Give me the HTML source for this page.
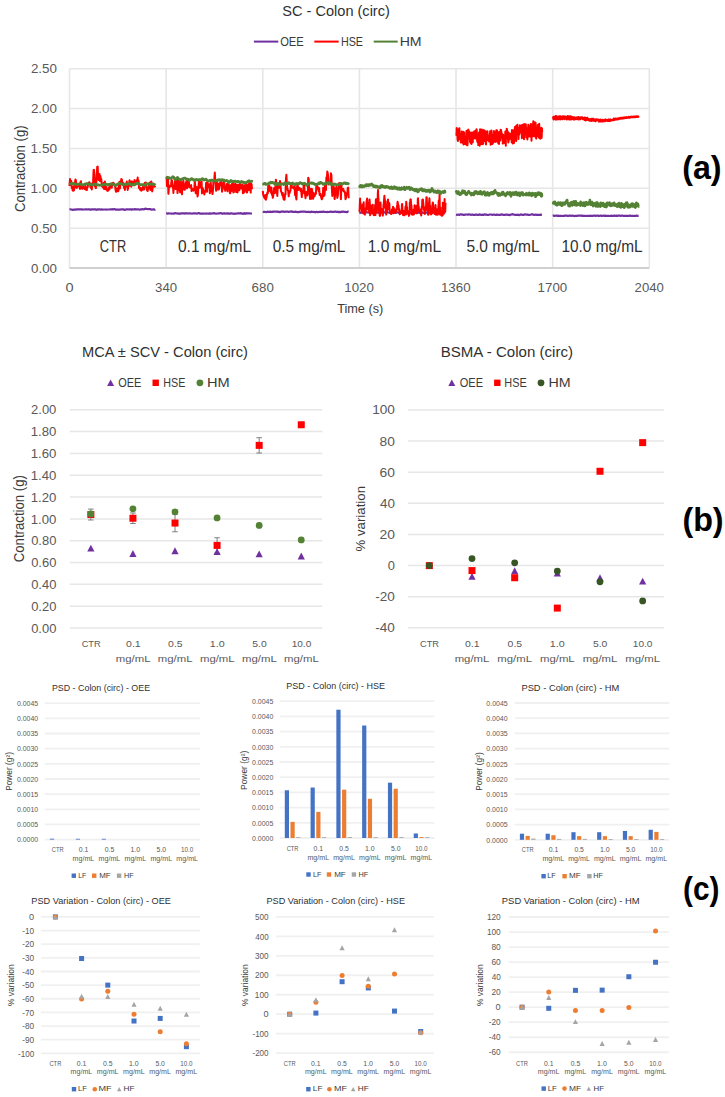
<!DOCTYPE html>
<html><head><meta charset="utf-8"><style>
html,body{margin:0;padding:0;background:#fff;}
svg{display:block;}
text{font-family:"Liberation Sans",sans-serif;}
</style></head><body>
<svg width="725" height="1097" viewBox="0 0 725 1097">
<rect width="725" height="1097" fill="#fff"/>
<line x1="69.50" y1="228.15" x2="649.30" y2="228.15" stroke="#E6E6E6" stroke-width="1.5"/>
<line x1="69.50" y1="188.30" x2="649.30" y2="188.30" stroke="#E6E6E6" stroke-width="1.5"/>
<line x1="69.50" y1="148.45" x2="649.30" y2="148.45" stroke="#E6E6E6" stroke-width="1.5"/>
<line x1="69.50" y1="108.60" x2="649.30" y2="108.60" stroke="#E6E6E6" stroke-width="1.5"/>
<line x1="69.50" y1="68.75" x2="649.30" y2="68.75" stroke="#E6E6E6" stroke-width="1.5"/>
<line x1="69.50" y1="68.75" x2="69.50" y2="268.00" stroke="#E6E6E6" stroke-width="1.6"/>
<line x1="166.13" y1="68.75" x2="166.13" y2="268.00" stroke="#E6E6E6" stroke-width="1.6"/>
<line x1="262.77" y1="68.75" x2="262.77" y2="268.00" stroke="#E6E6E6" stroke-width="1.6"/>
<line x1="359.40" y1="68.75" x2="359.40" y2="268.00" stroke="#E6E6E6" stroke-width="1.6"/>
<line x1="456.03" y1="68.75" x2="456.03" y2="268.00" stroke="#E6E6E6" stroke-width="1.6"/>
<line x1="552.67" y1="68.75" x2="552.67" y2="268.00" stroke="#E6E6E6" stroke-width="1.6"/>
<line x1="649.30" y1="68.75" x2="649.30" y2="268.00" stroke="#E6E6E6" stroke-width="1.6"/>
<line x1="69.50" y1="268.00" x2="649.30" y2="268.00" stroke="#D0D0D0" stroke-width="1.8"/>
<text x="282.35" y="16.10" font-size="14.8" textLength="107.50" lengthAdjust="spacingAndGlyphs" fill="#303030">SC - Colon (circ)</text>
<line x1="253.90" y1="41.60" x2="278.30" y2="41.60" stroke="#7030A0" stroke-width="2"/>
<text x="280.20" y="45.90" font-size="13.0" textLength="23.57" lengthAdjust="spacingAndGlyphs" fill="#3A3A3A">OEE</text>
<line x1="314.30" y1="41.60" x2="338.70" y2="41.60" stroke="#FF0000" stroke-width="2"/>
<text x="340.94" y="45.90" font-size="13.0" textLength="22.10" lengthAdjust="spacingAndGlyphs" fill="#3A3A3A">HSE</text>
<line x1="373.70" y1="41.60" x2="397.70" y2="41.60" stroke="#548235" stroke-width="2"/>
<text x="399.67" y="45.90" font-size="13.0" textLength="21.93" lengthAdjust="spacingAndGlyphs" fill="#3A3A3A">HM</text>
<text x="31.07" y="272.65" font-size="13.3" textLength="25.92" lengthAdjust="spacingAndGlyphs" fill="#595959">0.00</text>
<text x="31.07" y="232.80" font-size="13.3" textLength="25.92" lengthAdjust="spacingAndGlyphs" fill="#595959">0.50</text>
<text x="30.58" y="192.95" font-size="13.3" textLength="26.41" lengthAdjust="spacingAndGlyphs" fill="#595959">1.00</text>
<text x="30.58" y="153.10" font-size="13.3" textLength="26.41" lengthAdjust="spacingAndGlyphs" fill="#595959">1.50</text>
<text x="30.93" y="113.25" font-size="13.3" textLength="26.06" lengthAdjust="spacingAndGlyphs" fill="#595959">2.00</text>
<text x="30.93" y="73.40" font-size="13.3" textLength="26.06" lengthAdjust="spacingAndGlyphs" fill="#595959">2.50</text>
<text x="65.42" y="291.70" font-size="13.3" textLength="8.11" lengthAdjust="spacingAndGlyphs" fill="#595959">0</text>
<text x="155.11" y="291.70" font-size="13.3" textLength="22.04" lengthAdjust="spacingAndGlyphs" fill="#595959">340</text>
<text x="251.60" y="291.70" font-size="13.3" textLength="22.18" lengthAdjust="spacingAndGlyphs" fill="#595959">680</text>
<text x="344.35" y="291.70" font-size="13.3" textLength="29.56" lengthAdjust="spacingAndGlyphs" fill="#595959">1020</text>
<text x="440.99" y="291.70" font-size="13.3" textLength="29.56" lengthAdjust="spacingAndGlyphs" fill="#595959">1360</text>
<text x="537.62" y="291.70" font-size="13.3" textLength="29.56" lengthAdjust="spacingAndGlyphs" fill="#595959">1700</text>
<text x="634.59" y="291.70" font-size="13.3" textLength="29.21" lengthAdjust="spacingAndGlyphs" fill="#595959">2040</text>
<text x="337.15" y="312.70" font-size="13.0" textLength="46.07" lengthAdjust="spacingAndGlyphs" fill="#3A3A3A">Time (s)</text>
<text transform="rotate(-90)" x="-212.05" y="24.50" font-size="14.3" textLength="86.59" lengthAdjust="spacingAndGlyphs" fill="#3A3A3A">Contraction (g)</text>
<text x="99.86" y="251.70" font-size="15.6" textLength="26.32" lengthAdjust="spacingAndGlyphs" fill="#303030">CTR</text>
<text x="177.98" y="251.70" font-size="15.6" textLength="73.17" lengthAdjust="spacingAndGlyphs" fill="#303030">0.1 mg/mL</text>
<text x="272.68" y="251.70" font-size="15.6" textLength="72.77" lengthAdjust="spacingAndGlyphs" fill="#303030">0.5 mg/mL</text>
<text x="367.74" y="251.70" font-size="15.6" textLength="73.32" lengthAdjust="spacingAndGlyphs" fill="#303030">1.0 mg/mL</text>
<text x="466.38" y="251.70" font-size="15.6" textLength="73.17" lengthAdjust="spacingAndGlyphs" fill="#303030">5.0 mg/mL</text>
<text x="561.45" y="251.70" font-size="15.6" textLength="81.22" lengthAdjust="spacingAndGlyphs" fill="#303030">10.0 mg/mL</text>
<text x="682.19" y="179.24" font-size="33.16" textLength="39.33" lengthAdjust="spacingAndGlyphs" fill="#000000" font-weight="bold">(a)</text>
<polyline points="69.5,209.5 70.2,209.3 70.9,209.5 71.5,209.5 72.2,209.8 72.9,209.8 73.6,209.7 74.3,209.6 75.0,209.6 75.6,209.7 76.3,209.4 77.0,209.4 77.7,209.4 78.4,209.4 79.0,209.3 79.7,209.3 80.4,209.4 81.1,209.3 81.8,209.3 82.5,209.6 83.1,209.5 83.8,209.5 84.5,209.5 85.2,209.4 85.9,209.4 86.5,209.4 87.2,209.5 87.9,209.4 88.6,209.3 89.3,209.3 90.0,209.5 90.6,209.8 91.3,209.5 92.0,209.3 92.7,209.4 93.4,209.4 94.0,209.5 94.7,209.4 95.4,209.4 96.1,209.6 96.8,209.8 97.4,209.6 98.1,209.4 98.8,209.4 99.5,209.4 100.2,209.5 100.9,209.6 101.5,209.4 102.2,209.5 102.9,209.6 103.6,209.5 104.3,209.5 104.9,209.5 105.6,209.5 106.3,209.6 107.0,209.5 107.7,209.5 108.4,209.5 109.0,209.5 109.7,209.5 110.4,209.3 111.1,209.3 111.8,209.4 112.4,209.2 113.1,209.3 113.8,209.3 114.5,209.1 115.2,209.4 115.9,209.6 116.5,209.6 117.2,209.6 117.9,209.7 118.6,209.7 119.3,209.6 119.9,209.6 120.6,209.5 121.3,209.3 122.0,209.4 122.7,209.5 123.4,209.3 124.0,209.5 124.7,210.0 125.4,209.8 126.1,209.4 126.8,209.4 127.4,209.3 128.1,209.4 128.8,209.5 129.5,209.4 130.2,209.3 130.9,209.4 131.5,209.6 132.2,209.4 132.9,209.3 133.6,209.5 134.3,209.4 134.9,209.1 135.6,209.4 136.3,209.3 137.0,209.3 137.7,209.4 138.3,209.4 139.0,209.5 139.7,209.6 140.4,209.6 141.1,209.3 141.8,209.3 142.4,209.2 143.1,209.2 143.8,209.4 144.5,209.1 145.2,208.7 145.8,208.7 146.5,208.9 147.2,209.0 147.9,209.1 148.6,209.2 149.3,209.2 149.9,209.1 150.6,209.2 151.3,209.6 152.0,209.6 152.7,209.5 153.3,209.3 154.0,209.4 154.7,209.7 155.4,209.4" fill="none" stroke="#7030A0" stroke-width="2.2" stroke-linejoin="round"/>
<polyline points="69.5,186.0 70.0,179.0 70.4,183.0 70.9,185.4 71.3,181.0 71.8,187.9 72.2,187.8 72.7,190.5 73.1,190.8 73.6,186.5 74.0,190.4 74.5,186.2 75.0,182.0 75.4,179.6 75.9,180.4 76.3,187.5 76.8,187.9 77.2,186.2 77.7,185.0 78.1,183.9 78.6,186.3 79.0,186.1 79.5,187.1 80.0,189.0 80.4,182.2 80.9,181.2 81.3,184.9 81.8,188.1 82.2,188.8 82.7,188.1 83.1,186.5 83.6,187.3 84.0,188.4 84.5,188.8 85.0,189.1 85.4,185.3 85.9,188.6 86.3,190.1 86.8,190.1 87.2,187.5 87.7,187.1 88.1,184.2 88.6,184.0 89.0,182.4 89.5,182.2 90.0,184.7 90.4,186.9 90.9,187.9 91.3,183.7 91.8,189.4 92.2,184.7 92.7,185.5 93.1,181.4 93.6,170.1 94.0,169.8 94.5,174.8 94.9,186.2 95.4,187.0 95.9,188.1 96.3,183.1 96.8,175.7 97.2,166.9 97.7,166.6 98.1,176.7 98.6,179.9 99.0,175.0 99.5,174.0 99.9,180.9 100.4,175.9 100.9,180.1 101.3,179.0 101.8,186.0 102.2,184.3 102.7,187.3 103.1,186.5 103.6,183.0 104.0,188.9 104.5,183.2 104.9,181.5 105.4,189.2 105.9,189.1 106.3,186.9 106.8,189.0 107.2,190.7 107.7,189.9 108.1,190.6 108.6,189.8 109.0,187.3 109.5,189.3 109.9,187.5 110.4,185.4 110.9,185.3 111.3,186.8 111.8,187.6 112.2,182.9 112.7,185.0 113.1,182.7 113.6,184.0 114.0,183.3 114.5,184.3 114.9,184.7 115.4,188.7 115.9,191.7 116.3,191.8 116.8,189.1 117.2,188.2 117.7,190.3 118.1,191.3 118.6,190.3 119.0,184.0 119.5,181.8 119.9,188.5 120.4,183.9 120.9,182.7 121.3,179.1 121.8,179.4 122.2,181.9 122.7,183.4 123.1,182.8 123.6,183.4 124.0,187.8 124.5,185.6 124.9,189.9 125.4,183.8 125.9,183.8 126.3,186.4 126.8,181.6 127.2,184.4 127.7,189.9 128.1,188.0 128.6,185.9 129.0,183.6 129.5,180.3 129.9,181.4 130.4,185.7 130.9,185.8 131.3,186.6 131.8,181.2 132.2,183.9 132.7,182.0 133.1,184.1 133.6,183.4 134.0,185.2 134.5,180.1 134.9,184.0 135.4,182.5 135.8,184.5 136.3,182.1 136.8,180.2 137.2,181.3 137.7,177.6 138.1,183.8 138.6,180.5 139.0,187.9 139.5,188.5 139.9,189.1 140.4,189.9 140.8,187.7 141.3,190.7 141.8,189.8 142.2,189.7 142.7,189.7 143.1,186.3 143.6,186.1 144.0,189.6 144.5,185.2 144.9,182.8 145.4,186.6 145.8,182.5 146.3,185.5 146.8,189.8 147.2,190.7 147.7,191.0 148.1,187.3 148.6,188.5 149.0,183.6 149.5,187.2 149.9,182.5 150.4,189.9 150.8,184.9 151.3,181.5 151.8,186.2 152.2,191.4 152.7,188.2 153.1,183.4 153.6,186.1 154.0,185.2 154.5,186.4 154.9,186.7 155.4,185.9" fill="none" stroke="#FF0000" stroke-width="2.0" stroke-linejoin="round"/>
<polyline points="69.5,184.7 69.7,184.3 70.0,184.1 70.2,183.9 70.4,184.0 70.6,183.9 70.9,184.2 71.1,183.9 71.3,183.7 71.5,183.3 71.8,183.5 72.0,183.5 72.2,183.4 72.5,183.6 72.7,183.5 72.9,183.8 73.1,183.6 73.4,183.5 73.6,183.4 73.8,183.8 74.0,183.8 74.3,184.0 74.5,184.0 74.7,184.1 75.0,183.9 75.2,184.0 75.4,184.3 75.6,184.2 75.9,184.2 76.1,184.5 76.3,184.4 76.5,184.4 76.8,184.5 77.0,184.4 77.2,184.4 77.5,184.2 77.7,184.3 77.9,184.1 78.1,184.0 78.4,184.1 78.6,184.2 78.8,184.0 79.0,184.0 79.3,183.9 79.5,184.0 79.7,184.1 80.0,184.1 80.2,184.1 80.4,184.2 80.6,184.2 80.9,184.4 81.1,184.2 81.3,184.5 81.5,184.7 81.8,184.7 82.0,184.6 82.2,184.6 82.5,184.7 82.7,184.8 82.9,185.0 83.1,184.8 83.4,184.9 83.6,184.7 83.8,184.7 84.0,184.6 84.3,184.2 84.5,184.3 84.7,184.6 85.0,184.6 85.2,184.1 85.4,184.1 85.6,183.8 85.9,183.9 86.1,183.7 86.3,183.6 86.5,183.4 86.8,183.5 87.0,183.7 87.2,183.8 87.5,183.8 87.7,183.5 87.9,183.6 88.1,183.8 88.4,184.0 88.6,184.1 88.8,184.0 89.0,184.4 89.3,184.7 89.5,184.7 89.7,184.4 90.0,184.5 90.2,184.4 90.4,184.7 90.6,185.0 90.9,184.7 91.1,184.5 91.3,184.5 91.5,184.8 91.8,184.7 92.0,184.9 92.2,184.8 92.4,184.9 92.7,184.8 92.9,184.9 93.1,184.8 93.4,184.6 93.6,184.7 93.8,184.5 94.0,184.5 94.3,184.5 94.5,184.2 94.7,184.3 94.9,184.4 95.2,184.4 95.4,184.5 95.6,184.3 95.9,184.3 96.1,184.2 96.3,184.4 96.5,184.8 96.8,184.9 97.0,184.8 97.2,184.9 97.4,184.8 97.7,184.7 97.9,184.9 98.1,184.7 98.4,185.0 98.6,185.1 98.8,185.1 99.0,185.4 99.3,185.3 99.5,185.1 99.7,185.1 99.9,185.1 100.2,185.2 100.4,185.3 100.6,185.2 100.9,185.3 101.1,185.1 101.3,185.1 101.5,185.1 101.8,184.8 102.0,184.8 102.2,184.9 102.4,184.8 102.7,184.9 102.9,184.8 103.1,184.7 103.4,184.6 103.6,184.5 103.8,184.6 104.0,184.4 104.3,184.4 104.5,184.3 104.7,184.3 104.9,184.4 105.2,184.4 105.4,184.0 105.6,184.0 105.9,184.0 106.1,184.2 106.3,184.2 106.5,184.1 106.8,184.4 107.0,184.4 107.2,184.7 107.4,184.9 107.7,184.8 107.9,184.7 108.1,184.9 108.4,185.0 108.6,184.8 108.8,184.4 109.0,184.5 109.3,184.5 109.5,184.3 109.7,184.5 109.9,184.2 110.2,184.0 110.4,183.9 110.6,183.9 110.9,184.0 111.1,184.0 111.3,184.2 111.5,184.3 111.8,184.1 112.0,184.0 112.2,183.9 112.4,183.8 112.7,184.0 112.9,184.3 113.1,184.2 113.4,184.3 113.6,184.2 113.8,184.4 114.0,184.6 114.3,184.7 114.5,185.0 114.7,185.4 114.9,185.4 115.2,185.3 115.4,185.1 115.6,185.0 115.9,185.0 116.1,184.9 116.3,185.3 116.5,185.1 116.8,185.0 117.0,184.8 117.2,184.5 117.4,184.0 117.7,183.9 117.9,184.0 118.1,183.9 118.4,183.9 118.6,183.9 118.8,183.9 119.0,183.3 119.3,183.3 119.5,183.3 119.7,183.4 119.9,183.5 120.2,183.6 120.4,183.5 120.6,183.6 120.9,183.8 121.1,183.7 121.3,183.6 121.5,183.6 121.8,184.1 122.0,184.2 122.2,184.1 122.4,184.2 122.7,184.6 122.9,184.5 123.1,184.6 123.4,184.4 123.6,184.5 123.8,184.3 124.0,184.4 124.3,184.4 124.5,184.3 124.7,184.3 124.9,184.4 125.2,184.4 125.4,184.1 125.6,184.2 125.9,184.4 126.1,184.4 126.3,184.4 126.5,184.4 126.8,184.5 127.0,184.7 127.2,184.4 127.4,184.0 127.7,183.7 127.9,183.6 128.1,183.7 128.4,183.5 128.6,183.4 128.8,183.5 129.0,183.5 129.3,183.5 129.5,183.6 129.7,183.7 129.9,184.1 130.2,184.3 130.4,184.7 130.6,184.7 130.9,184.7 131.1,184.8 131.3,184.9 131.5,184.7 131.8,184.8 132.0,184.9 132.2,184.9 132.4,184.6 132.7,184.4 132.9,184.6 133.1,184.5 133.3,184.5 133.6,184.5 133.8,184.8 134.0,184.9 134.3,185.0 134.5,184.5 134.7,184.3 134.9,184.2 135.2,184.3 135.4,184.0 135.6,183.9 135.8,183.9 136.1,183.7 136.3,183.7 136.5,183.4 136.8,183.3 137.0,183.0 137.2,183.1 137.4,183.2 137.7,183.1 137.9,183.5 138.1,183.7 138.3,183.7 138.6,183.5 138.8,183.6 139.0,183.7 139.3,184.1 139.5,183.9 139.7,184.3 139.9,184.6 140.2,184.7 140.4,184.9 140.6,184.9 140.8,184.8 141.1,184.8 141.3,184.7 141.5,184.5 141.8,184.5 142.0,184.5 142.2,184.7 142.4,184.7 142.7,184.7 142.9,184.6 143.1,184.9 143.3,184.5 143.6,184.9 143.8,184.9 144.0,185.0 144.3,185.4 144.5,185.4 144.7,185.2 144.9,185.2 145.2,185.2 145.4,185.2 145.6,184.9 145.8,184.4 146.1,184.2 146.3,183.9 146.5,184.1 146.8,183.8 147.0,183.8 147.2,183.8 147.4,183.8 147.7,183.7 147.9,183.5 148.1,183.5 148.3,183.9 148.6,184.2 148.8,184.1 149.0,184.2 149.3,184.2 149.5,184.3 149.7,184.2 149.9,184.3 150.2,184.3 150.4,184.2 150.6,184.1 150.8,184.1 151.1,183.7 151.3,183.8 151.5,184.1 151.8,184.1 152.0,183.9 152.2,184.2 152.4,184.4 152.7,184.3 152.9,184.2 153.1,184.3 153.3,184.1 153.6,184.3 153.8,184.4 154.0,184.4 154.3,184.5 154.5,184.3 154.7,184.7 154.9,184.7 155.2,184.7 155.4,184.8 155.6,185.0" fill="none" stroke="#548235" stroke-width="2.6" stroke-linejoin="round"/>
<polyline points="166.1,213.5 166.8,213.4 167.5,213.6 168.2,213.5 168.9,213.3 169.5,213.5 170.2,213.5 170.9,213.5 171.6,213.7 172.3,213.5 173.0,213.5 173.6,213.7 174.3,213.4 175.0,213.2 175.7,213.2 176.4,213.4 177.0,213.5 177.7,213.4 178.4,213.7 179.1,213.7 179.8,213.8 180.4,213.5 181.1,213.4 181.8,213.4 182.5,213.3 183.2,213.3 183.9,213.3 184.5,213.6 185.2,213.5 185.9,213.2 186.6,213.3 187.3,213.5 187.9,213.5 188.6,213.4 189.3,213.4 190.0,213.4 190.7,213.5 191.4,213.5 192.0,213.6 192.7,213.5 193.4,213.4 194.1,213.4 194.8,213.4 195.4,213.4 196.1,213.5 196.8,213.6 197.5,213.4 198.2,213.2 198.9,213.1 199.5,213.3 200.2,213.7 200.9,213.7 201.6,213.5 202.3,213.6 202.9,213.7 203.6,213.7 204.3,213.5 205.0,213.5 205.7,213.7 206.4,213.7 207.0,213.5 207.7,213.5 208.4,213.7 209.1,213.6 209.8,213.4 210.4,213.6 211.1,213.6 211.8,213.5 212.5,213.4 213.2,213.5 213.9,213.2 214.5,213.2 215.2,213.5 215.9,213.7 216.6,213.7 217.3,213.5 217.9,213.5 218.6,213.4 219.3,213.4 220.0,213.3 220.7,213.1 221.3,213.3 222.0,213.6 222.7,213.8 223.4,213.5 224.1,213.2 224.8,213.6 225.4,213.7 226.1,213.5 226.8,213.4 227.5,213.6 228.2,213.4 228.8,213.5 229.5,213.7 230.2,213.6 230.9,213.4 231.6,213.3 232.3,213.5 232.9,213.6 233.6,213.8 234.3,213.9 235.0,213.5 235.7,213.5 236.3,213.6 237.0,213.5 237.7,213.4 238.4,213.4 239.1,213.4 239.8,213.3 240.4,213.2 241.1,213.3 241.8,213.6 242.5,213.7 243.2,213.8 243.8,213.4 244.5,213.2 245.2,213.8 245.9,213.6 246.6,213.2 247.3,213.5 247.9,213.4 248.6,213.3 249.3,213.5 250.0,213.4 250.7,213.5 251.3,213.5 252.0,213.5" fill="none" stroke="#7030A0" stroke-width="2.2" stroke-linejoin="round"/>
<polyline points="166.1,178.1 166.6,177.3 167.0,186.2 167.5,179.5 168.0,179.0 168.4,193.8 168.9,187.9 169.3,186.6 169.8,186.8 170.2,185.2 170.7,186.3 171.1,184.2 171.6,180.1 172.0,180.3 172.5,186.9 173.0,186.3 173.4,193.0 173.9,185.8 174.3,186.5 174.8,182.3 175.2,180.5 175.7,189.1 176.1,180.1 176.6,180.2 177.0,179.1 177.5,193.1 177.9,181.8 178.4,178.9 178.9,184.5 179.3,190.1 179.8,191.1 180.2,192.4 180.7,180.3 181.1,185.3 181.6,191.0 182.0,194.3 182.5,182.2 182.9,187.7 183.4,180.4 183.9,189.4 184.3,189.1 184.8,189.8 185.2,184.5 185.7,183.4 186.1,182.1 186.6,180.9 187.0,188.4 187.5,186.1 187.9,180.0 188.4,180.6 188.9,181.9 189.3,187.2 189.8,185.7 190.2,187.6 190.7,185.6 191.1,185.1 191.6,191.1 192.0,188.7 192.5,188.7 192.9,190.1 193.4,190.7 193.9,189.3 194.3,189.0 194.8,181.0 195.2,185.1 195.7,193.3 196.1,190.6 196.6,187.0 197.0,187.5 197.5,196.4 197.9,195.0 198.4,187.0 198.9,181.8 199.3,179.8 199.8,187.7 200.2,186.2 200.7,184.3 201.1,183.3 201.6,181.4 202.0,193.4 202.5,191.2 202.9,188.4 203.4,192.6 203.9,190.7 204.3,194.4 204.8,192.5 205.2,191.2 205.7,190.0 206.1,182.8 206.6,187.2 207.0,191.8 207.5,181.4 207.9,184.4 208.4,185.0 208.9,187.2 209.3,184.5 209.8,193.3 210.2,188.9 210.7,182.2 211.1,186.4 211.6,191.5 212.0,188.1 212.5,194.1 212.9,191.0 213.4,181.8 213.9,181.8 214.3,179.3 214.8,172.6 215.2,179.1 215.7,186.3 216.1,190.7 216.6,180.6 217.0,181.8 217.5,189.6 217.9,185.4 218.4,183.7 218.8,189.4 219.3,187.4 219.8,183.1 220.2,185.1 220.7,180.3 221.1,180.9 221.6,183.9 222.0,191.8 222.5,189.8 222.9,188.0 223.4,183.0 223.8,181.5 224.3,185.2 224.8,186.9 225.2,190.8 225.7,186.4 226.1,187.5 226.6,184.1 227.0,186.4 227.5,191.3 227.9,182.8 228.4,183.1 228.8,189.0 229.3,184.9 229.8,192.8 230.2,193.3 230.7,185.3 231.1,191.2 231.6,190.9 232.0,183.7 232.5,183.7 232.9,181.3 233.4,192.4 233.8,192.3 234.3,186.0 234.8,185.6 235.2,183.5 235.7,186.8 236.1,192.0 236.6,184.7 237.0,186.7 237.5,192.4 237.9,184.7 238.4,186.6 238.8,185.8 239.3,190.3 239.8,183.8 240.2,182.3 240.7,188.4 241.1,185.8 241.6,188.6 242.0,187.7 242.5,184.4 242.9,193.2 243.4,185.6 243.8,192.7 244.3,188.2 244.8,191.7 245.2,184.7 245.7,187.6 246.1,184.0 246.6,185.8 247.0,192.6 247.5,190.6 247.9,185.2 248.4,184.3 248.8,190.0 249.3,181.3 249.8,189.5 250.2,186.3 250.7,192.6 251.1,183.7 251.6,184.3 252.0,189.3" fill="none" stroke="#FF0000" stroke-width="2.0" stroke-linejoin="round"/>
<polyline points="166.1,177.4 166.4,177.5 166.6,177.5 166.8,177.8 167.0,177.6 167.3,177.2 167.5,177.4 167.7,177.4 168.0,177.3 168.2,177.6 168.4,177.6 168.6,177.8 168.9,177.6 169.1,177.5 169.3,177.8 169.5,178.3 169.8,178.2 170.0,178.4 170.2,178.5 170.5,178.3 170.7,178.4 170.9,178.2 171.1,178.1 171.4,178.0 171.6,177.8 171.8,177.6 172.0,177.4 172.3,177.1 172.5,176.9 172.7,176.7 173.0,176.6 173.2,176.8 173.4,177.1 173.6,177.2 173.9,177.4 174.1,178.0 174.3,178.3 174.5,179.0 174.8,179.2 175.0,179.2 175.2,179.5 175.4,179.5 175.7,179.4 175.9,179.4 176.1,179.0 176.4,178.3 176.6,178.4 176.8,177.9 177.0,177.9 177.3,177.8 177.5,177.4 177.7,177.6 177.9,177.9 178.2,178.1 178.4,178.5 178.6,178.9 178.9,178.9 179.1,179.3 179.3,179.3 179.5,179.4 179.8,179.5 180.0,179.8 180.2,179.8 180.4,179.8 180.7,179.7 180.9,179.8 181.1,179.3 181.4,179.2 181.6,179.3 181.8,179.3 182.0,179.3 182.3,179.0 182.5,178.7 182.7,178.5 182.9,178.5 183.2,178.4 183.4,178.5 183.6,178.3 183.9,178.2 184.1,178.1 184.3,178.1 184.5,178.0 184.8,178.0 185.0,178.1 185.2,178.5 185.4,178.3 185.7,178.4 185.9,178.8 186.1,179.0 186.4,179.3 186.6,179.1 186.8,179.0 187.0,179.5 187.3,179.4 187.5,179.1 187.7,179.1 187.9,179.3 188.2,179.5 188.4,179.4 188.6,179.4 188.9,179.8 189.1,180.3 189.3,180.0 189.5,179.8 189.8,180.1 190.0,180.2 190.2,180.1 190.4,179.3 190.7,179.3 190.9,179.3 191.1,179.0 191.4,178.5 191.6,178.7 191.8,178.9 192.0,178.7 192.3,179.2 192.5,178.8 192.7,179.3 192.9,179.5 193.2,179.4 193.4,179.9 193.6,180.2 193.9,180.2 194.1,180.4 194.3,180.3 194.5,179.8 194.8,180.3 195.0,180.2 195.2,179.9 195.4,180.2 195.7,179.9 195.9,179.8 196.1,179.6 196.4,179.4 196.6,179.4 196.8,179.9 197.0,179.8 197.3,180.0 197.5,180.0 197.7,179.9 197.9,180.1 198.2,179.7 198.4,179.8 198.6,180.0 198.9,179.8 199.1,179.6 199.3,179.7 199.5,179.6 199.8,179.9 200.0,179.9 200.2,179.8 200.4,179.7 200.7,179.6 200.9,179.5 201.1,179.5 201.4,179.4 201.6,179.3 201.8,179.2 202.0,179.0 202.3,178.5 202.5,178.5 202.7,179.0 202.9,179.0 203.2,179.1 203.4,179.4 203.6,179.9 203.9,179.8 204.1,179.9 204.3,179.8 204.5,180.0 204.8,179.8 205.0,179.6 205.2,179.7 205.4,179.8 205.7,179.8 205.9,179.1 206.1,179.2 206.4,179.6 206.6,179.7 206.8,179.9 207.0,180.3 207.3,180.3 207.5,180.5 207.7,180.7 207.9,180.8 208.2,180.7 208.4,181.0 208.6,180.8 208.9,180.7 209.1,180.6 209.3,180.7 209.5,180.8 209.8,180.7 210.0,180.3 210.2,180.3 210.4,180.8 210.7,180.4 210.9,180.2 211.1,180.3 211.4,180.5 211.6,180.2 211.8,180.1 212.0,180.0 212.3,180.4 212.5,180.3 212.7,180.1 212.9,180.5 213.2,180.7 213.4,180.7 213.6,180.7 213.9,180.7 214.1,181.0 214.3,181.2 214.5,180.9 214.8,180.9 215.0,180.6 215.2,180.7 215.4,181.0 215.7,181.0 215.9,180.8 216.1,180.5 216.3,180.2 216.6,180.3 216.8,180.3 217.0,180.5 217.3,180.9 217.5,180.3 217.7,180.0 217.9,179.9 218.2,179.9 218.4,179.9 218.6,180.0 218.8,179.6 219.1,180.0 219.3,180.1 219.5,179.6 219.8,179.8 220.0,179.8 220.2,179.9 220.4,179.9 220.7,180.4 220.9,180.2 221.1,180.3 221.3,180.0 221.6,179.7 221.8,179.8 222.0,180.0 222.3,179.9 222.5,180.2 222.7,180.1 222.9,179.6 223.2,180.0 223.4,180.2 223.6,180.1 223.8,180.0 224.1,180.1 224.3,180.5 224.5,180.5 224.8,180.5 225.0,180.8 225.2,181.1 225.4,181.1 225.7,180.9 225.9,180.5 226.1,180.6 226.3,180.5 226.6,180.4 226.8,180.6 227.0,180.6 227.3,180.6 227.5,180.9 227.7,181.0 227.9,181.1 228.2,181.9 228.4,182.3 228.6,182.7 228.8,182.4 229.1,182.3 229.3,181.9 229.5,181.7 229.8,181.6 230.0,181.3 230.2,181.6 230.4,181.0 230.7,180.5 230.9,180.3 231.1,180.6 231.3,180.6 231.6,181.1 231.8,181.4 232.0,181.2 232.3,181.4 232.5,181.2 232.7,181.4 232.9,181.8 233.2,181.8 233.4,181.7 233.6,181.9 233.8,181.5 234.1,181.5 234.3,181.3 234.5,181.5 234.8,181.0 235.0,181.4 235.2,181.1 235.4,181.4 235.7,181.5 235.9,181.4 236.1,181.3 236.3,181.4 236.6,181.5 236.8,181.6 237.0,181.9 237.3,181.7 237.5,181.7 237.7,181.8 237.9,181.3 238.2,181.2 238.4,181.4 238.6,181.4 238.8,181.9 239.1,182.0 239.3,181.9 239.5,182.1 239.8,182.4 240.0,182.2 240.2,182.2 240.4,182.4 240.7,182.4 240.9,182.0 241.1,181.6 241.3,181.4 241.6,181.6 241.8,181.8 242.0,181.8 242.3,181.8 242.5,182.1 242.7,182.0 242.9,181.8 243.2,182.0 243.4,182.1 243.6,182.3 243.8,182.6 244.1,182.4 244.3,182.4 244.5,182.4 244.8,182.4 245.0,182.7 245.2,183.0 245.4,183.1 245.7,183.1 245.9,183.0 246.1,182.6 246.3,182.5 246.6,182.6 246.8,182.4 247.0,182.1 247.3,182.0 247.5,181.6 247.7,181.3 247.9,181.1 248.2,181.1 248.4,180.9 248.6,180.8 248.8,180.7 249.1,180.7 249.3,181.0 249.5,180.9 249.8,181.1 250.0,181.1 250.2,181.5 250.4,181.6 250.7,181.8 250.9,181.7 251.1,181.5 251.3,181.6 251.6,181.5 251.8,181.5 252.0,181.1 252.3,181.6" fill="none" stroke="#548235" stroke-width="2.6" stroke-linejoin="round"/>
<polyline points="262.8,211.8 263.4,212.0 264.1,211.9 264.8,211.9 265.5,212.0 266.2,212.1 266.9,212.0 267.5,211.6 268.2,211.8 268.9,211.9 269.6,211.8 270.3,211.7 270.9,211.8 271.6,211.9 272.3,211.7 273.0,211.8 273.7,211.6 274.4,211.5 275.0,211.7 275.7,211.7 276.4,211.6 277.1,211.7 277.8,211.8 278.4,211.7 279.1,211.9 279.8,212.1 280.5,211.9 281.2,211.6 281.9,211.6 282.5,211.6 283.2,211.4 283.9,211.8 284.6,212.0 285.3,211.6 285.9,211.5 286.6,211.7 287.3,211.6 288.0,211.7 288.7,211.9 289.4,211.7 290.0,211.7 290.7,211.6 291.4,211.4 292.1,211.6 292.8,211.9 293.4,211.8 294.1,211.8 294.8,211.8 295.5,211.7 296.2,211.8 296.9,211.9 297.5,212.2 298.2,212.1 298.9,211.9 299.6,212.0 300.3,211.8 300.9,211.7 301.6,211.7 302.3,211.6 303.0,211.7 303.7,211.7 304.3,211.5 305.0,211.7 305.7,211.8 306.4,211.9 307.1,212.0 307.8,211.8 308.4,211.8 309.1,211.8 309.8,212.1 310.5,212.1 311.2,211.7 311.8,211.7 312.5,211.9 313.2,212.0 313.9,211.9 314.6,212.1 315.3,212.3 315.9,212.0 316.6,211.8 317.3,212.1 318.0,212.2 318.7,212.0 319.3,211.9 320.0,211.9 320.7,211.9 321.4,211.7 322.1,211.9 322.8,211.9 323.4,211.6 324.1,211.8 324.8,211.9 325.5,212.0 326.2,212.0 326.8,212.1 327.5,211.9 328.2,212.0 328.9,212.0 329.6,211.8 330.3,211.7 330.9,211.7 331.6,211.8 332.3,211.8 333.0,211.8 333.7,211.8 334.3,211.8 335.0,211.6 335.7,211.7 336.4,211.9 337.1,211.7 337.8,211.9 338.4,212.1 339.1,211.9 339.8,212.1 340.5,212.1 341.2,211.7 341.8,211.7 342.5,211.8 343.2,211.6 343.9,211.8 344.6,211.9 345.2,211.8 345.9,212.0 346.6,212.2 347.3,211.9 348.0,211.6 348.7,211.7" fill="none" stroke="#7030A0" stroke-width="2.2" stroke-linejoin="round"/>
<polyline points="262.8,190.8 263.2,194.6 263.7,196.2 264.1,197.4 264.6,195.5 265.0,198.7 265.5,195.1 265.9,199.7 266.4,197.8 266.9,195.1 267.3,192.6 267.8,193.5 268.2,185.9 268.7,191.1 269.1,185.4 269.6,186.7 270.0,188.3 270.5,190.3 270.9,192.6 271.4,187.6 271.9,194.7 272.3,192.4 272.8,197.8 273.2,195.7 273.7,191.9 274.1,188.1 274.6,192.1 275.0,193.0 275.5,185.8 275.9,179.7 276.4,184.1 276.9,191.7 277.3,196.0 277.8,185.0 278.2,187.8 278.7,184.9 279.1,184.2 279.6,187.7 280.0,181.0 280.5,183.7 280.9,190.8 281.4,192.1 281.9,193.4 282.3,195.4 282.8,192.9 283.2,197.3 283.7,199.5 284.1,198.0 284.6,199.8 285.0,194.3 285.5,194.5 285.9,179.8 286.4,174.7 286.9,184.5 287.3,187.5 287.8,190.3 288.2,190.9 288.7,196.3 289.1,191.3 289.6,193.0 290.0,191.3 290.5,190.7 290.9,183.8 291.4,183.8 291.9,186.2 292.3,187.5 292.8,187.8 293.2,187.1 293.7,187.1 294.1,188.9 294.6,185.5 295.0,195.0 295.5,187.8 295.9,196.4 296.4,199.4 296.9,189.1 297.3,184.7 297.8,185.5 298.2,190.0 298.7,187.5 299.1,188.3 299.6,188.0 300.0,189.0 300.5,191.1 300.9,188.7 301.4,192.6 301.8,197.1 302.3,190.7 302.8,193.4 303.2,191.8 303.7,184.6 304.1,183.8 304.6,191.8 305.0,193.9 305.5,198.2 305.9,191.7 306.4,195.5 306.8,193.2 307.3,195.4 307.8,193.1 308.2,177.7 308.7,178.9 309.1,186.8 309.6,194.6 310.0,198.9 310.5,189.0 310.9,191.7 311.4,198.8 311.8,188.7 312.3,191.3 312.8,194.4 313.2,198.7 313.7,193.0 314.1,195.7 314.6,196.3 315.0,195.0 315.5,194.1 315.9,194.0 316.4,184.4 316.8,184.4 317.3,185.3 317.8,189.0 318.2,187.8 318.7,191.2 319.1,188.1 319.6,194.9 320.0,194.7 320.5,193.8 320.9,196.3 321.4,198.2 321.8,199.3 322.3,198.3 322.8,194.8 323.2,187.8 323.7,194.5 324.1,195.9 324.6,194.7 325.0,185.1 325.5,189.8 325.9,190.1 326.4,177.3 326.8,180.4 327.3,171.6 327.8,173.5 328.2,176.7 328.7,184.5 329.1,183.7 329.6,183.6 330.0,181.7 330.5,184.0 330.9,173.3 331.4,175.0 331.8,186.7 332.3,196.0 332.8,186.2 333.2,191.6 333.7,186.4 334.1,189.2 334.6,199.0 335.0,195.9 335.5,193.7 335.9,188.2 336.4,186.7 336.8,190.2 337.3,197.9 337.8,195.7 338.2,190.4 338.7,187.5 339.1,183.1 339.6,184.9 340.0,183.2 340.5,188.2 340.9,199.3 341.4,184.9 341.8,191.0 342.3,189.4 342.7,190.2 343.2,188.9 343.7,190.5 344.1,191.6 344.6,191.4 345.0,192.8 345.5,199.2 345.9,197.9 346.4,195.8 346.8,192.9 347.3,194.0 347.7,188.2 348.2,187.5 348.7,198.3" fill="none" stroke="#FF0000" stroke-width="2.0" stroke-linejoin="round"/>
<polyline points="262.8,183.9 263.0,184.1 263.2,184.2 263.4,183.8 263.7,184.0 263.9,183.7 264.1,183.8 264.4,183.9 264.6,183.9 264.8,183.3 265.0,183.4 265.3,183.4 265.5,183.7 265.7,184.3 265.9,183.9 266.2,184.0 266.4,184.2 266.6,184.4 266.9,184.5 267.1,184.3 267.3,184.0 267.5,183.9 267.8,184.0 268.0,183.7 268.2,183.7 268.4,183.6 268.7,183.2 268.9,183.1 269.1,182.8 269.4,182.8 269.6,183.0 269.8,183.4 270.0,182.6 270.3,182.7 270.5,182.5 270.7,182.2 270.9,182.5 271.2,182.4 271.4,182.8 271.6,183.0 271.9,182.9 272.1,182.3 272.3,182.6 272.5,182.5 272.8,182.5 273.0,183.0 273.2,182.9 273.4,182.5 273.7,182.6 273.9,182.8 274.1,182.8 274.4,183.4 274.6,184.0 274.8,183.8 275.0,184.2 275.3,184.2 275.5,184.2 275.7,184.9 275.9,184.9 276.2,184.8 276.4,184.3 276.6,183.9 276.9,183.4 277.1,183.9 277.3,183.7 277.5,183.9 277.8,183.6 278.0,183.5 278.2,183.3 278.4,183.3 278.7,183.9 278.9,184.4 279.1,184.4 279.4,184.4 279.6,184.6 279.8,184.4 280.0,184.7 280.3,184.6 280.5,184.4 280.7,184.4 280.9,184.2 281.2,183.9 281.4,183.8 281.6,183.9 281.9,183.6 282.1,183.7 282.3,183.8 282.5,183.9 282.8,184.2 283.0,184.1 283.2,183.9 283.4,184.4 283.7,184.6 283.9,183.8 284.1,183.7 284.4,183.2 284.6,183.0 284.8,183.3 285.0,183.4 285.3,183.4 285.5,183.4 285.7,183.1 285.9,183.1 286.2,183.5 286.4,184.0 286.6,184.4 286.9,184.1 287.1,183.3 287.3,183.1 287.5,182.9 287.8,183.2 288.0,183.2 288.2,183.6 288.4,183.5 288.7,183.2 288.9,182.7 289.1,182.9 289.4,183.3 289.6,183.7 289.8,183.7 290.0,183.7 290.3,183.6 290.5,183.6 290.7,183.6 290.9,183.3 291.2,183.9 291.4,183.9 291.6,183.9 291.9,183.3 292.1,183.6 292.3,183.2 292.5,183.2 292.8,182.9 293.0,183.2 293.2,183.9 293.4,183.9 293.7,183.7 293.9,183.8 294.1,184.1 294.4,184.1 294.6,184.8 294.8,184.8 295.0,184.6 295.3,184.4 295.5,184.0 295.7,183.7 295.9,183.5 296.2,183.6 296.4,183.3 296.6,183.7 296.9,183.7 297.1,183.5 297.3,183.6 297.5,183.7 297.8,183.7 298.0,183.9 298.2,184.1 298.4,183.7 298.7,183.9 298.9,183.9 299.1,183.2 299.3,183.2 299.6,183.1 299.8,183.1 300.0,182.5 300.3,182.5 300.5,182.5 300.7,183.2 300.9,183.3 301.2,183.1 301.4,183.4 301.6,183.4 301.8,183.7 302.1,183.4 302.3,184.1 302.5,184.2 302.8,184.2 303.0,184.1 303.2,183.9 303.4,183.6 303.7,183.7 303.9,183.4 304.1,183.2 304.3,183.5 304.6,183.5 304.8,183.7 305.0,183.9 305.3,183.7 305.5,183.9 305.7,183.9 305.9,184.3 306.2,184.9 306.4,185.3 306.6,185.1 306.8,185.0 307.1,184.8 307.3,184.9 307.5,184.6 307.8,184.6 308.0,184.7 308.2,184.7 308.4,184.2 308.7,183.7 308.9,183.9 309.1,183.5 309.3,183.5 309.6,183.3 309.8,183.3 310.0,183.2 310.3,183.2 310.5,182.8 310.7,183.2 310.9,183.1 311.2,183.0 311.4,183.3 311.6,182.8 311.8,183.1 312.1,183.3 312.3,183.1 312.5,183.1 312.8,183.4 313.0,183.0 313.2,183.1 313.4,183.5 313.7,183.3 313.9,183.9 314.1,183.9 314.3,183.9 314.6,184.3 314.8,184.5 315.0,184.2 315.3,184.7 315.5,184.8 315.7,184.6 315.9,184.6 316.2,184.4 316.4,184.4 316.6,184.7 316.8,184.6 317.1,184.1 317.3,183.9 317.5,183.8 317.8,183.6 318.0,183.8 318.2,183.8 318.4,183.8 318.7,183.3 318.9,182.9 319.1,183.0 319.3,183.2 319.6,183.6 319.8,183.5 320.0,183.4 320.3,182.4 320.5,182.4 320.7,182.3 320.9,182.7 321.2,182.6 321.4,182.9 321.6,183.1 321.8,182.8 322.1,183.1 322.3,183.0 322.5,183.6 322.8,183.8 323.0,184.0 323.2,184.0 323.4,184.5 323.7,184.1 323.9,183.8 324.1,183.8 324.3,183.5 324.6,183.9 324.8,184.1 325.0,184.3 325.3,184.2 325.5,183.6 325.7,183.0 325.9,183.2 326.2,183.4 326.4,183.2 326.6,182.9 326.8,183.1 327.1,183.3 327.3,182.9 327.5,182.7 327.8,183.1 328.0,183.3 328.2,183.2 328.4,182.7 328.7,182.9 328.9,183.3 329.1,183.0 329.3,182.7 329.6,182.6 329.8,183.1 330.0,182.9 330.3,183.3 330.5,183.4 330.7,184.1 330.9,184.5 331.2,184.6 331.4,184.7 331.6,184.8 331.8,184.8 332.1,184.6 332.3,184.9 332.5,184.5 332.8,184.7 333.0,184.9 333.2,184.4 333.4,184.2 333.7,183.8 333.9,183.9 334.1,184.3 334.3,184.4 334.6,184.1 334.8,184.4 335.0,184.1 335.3,184.0 335.5,184.4 335.7,184.3 335.9,184.4 336.2,184.6 336.4,184.6 336.6,184.6 336.8,184.6 337.1,184.7 337.3,184.6 337.5,184.7 337.8,184.8 338.0,184.8 338.2,184.8 338.4,184.8 338.7,184.7 338.9,184.4 339.1,184.6 339.3,184.5 339.6,184.3 339.8,183.9 340.0,183.4 340.2,183.3 340.5,183.6 340.7,183.4 340.9,183.3 341.2,183.7 341.4,183.8 341.6,183.5 341.8,183.9 342.1,183.8 342.3,183.9 342.5,184.1 342.7,183.9 343.0,183.8 343.2,183.5 343.4,183.3 343.7,183.2 343.9,183.4 344.1,182.7 344.3,182.7 344.6,183.0 344.8,183.0 345.0,183.3 345.2,183.4 345.5,183.6 345.7,183.0 345.9,183.3 346.2,183.1 346.4,183.4 346.6,183.7 346.8,183.5 347.1,183.6 347.3,183.4 347.5,183.2 347.7,183.6 348.0,183.8 348.2,183.5 348.4,183.4 348.7,183.4 348.9,183.0" fill="none" stroke="#548235" stroke-width="2.6" stroke-linejoin="round"/>
<polyline points="359.4,212.6 360.1,212.8 360.8,212.7 361.4,212.5 362.1,212.5 362.8,212.6 363.5,212.6 364.2,212.5 364.9,212.5 365.5,212.5 366.2,212.5 366.9,212.4 367.6,212.3 368.3,212.3 368.9,212.5 369.6,212.7 370.3,212.7 371.0,212.6 371.7,212.6 372.4,212.4 373.0,212.5 373.7,212.6 374.4,212.4 375.1,212.5 375.8,212.6 376.4,212.7 377.1,212.7 377.8,212.4 378.5,212.4 379.2,212.6 379.9,212.7 380.5,212.7 381.2,212.7 381.9,212.6 382.6,212.7 383.3,212.6 383.9,212.5 384.6,212.4 385.3,212.6 386.0,212.7 386.7,212.6 387.3,212.5 388.0,212.5 388.7,212.5 389.4,212.8 390.1,212.8 390.8,212.5 391.4,212.6 392.1,212.8 392.8,212.5 393.5,212.5 394.2,212.5 394.8,212.7 395.5,212.9 396.2,212.7 396.9,212.4 397.6,212.2 398.3,212.5 398.9,212.8 399.6,212.6 400.3,212.4 401.0,212.5 401.7,212.6 402.3,212.6 403.0,212.8 403.7,212.7 404.4,212.7 405.1,213.0 405.8,213.0 406.4,212.8 407.1,212.8 407.8,212.6 408.5,212.4 409.2,212.6 409.8,212.6 410.5,212.6 411.2,212.7 411.9,212.8 412.6,212.7 413.3,212.6 413.9,212.7 414.6,212.7 415.3,212.6 416.0,212.9 416.7,213.2 417.3,213.0 418.0,212.6 418.7,212.4 419.4,212.7 420.1,212.9 420.8,212.7 421.4,212.4 422.1,212.4 422.8,212.7 423.5,212.8 424.2,213.0 424.8,212.5 425.5,212.3 426.2,212.6 426.9,212.6 427.6,212.7 428.2,212.8 428.9,212.7 429.6,212.7 430.3,212.8 431.0,212.7 431.7,212.7 432.3,212.7 433.0,212.7 433.7,212.5 434.4,212.5 435.1,212.6 435.7,212.6 436.4,212.5 437.1,212.6 437.8,212.8 438.5,212.7 439.2,212.8 439.8,212.6 440.5,212.3 441.2,212.5 441.9,212.7 442.6,212.7 443.2,212.7 443.9,212.8 444.6,212.5 445.3,212.5" fill="none" stroke="#7030A0" stroke-width="2.2" stroke-linejoin="round"/>
<polyline points="359.4,210.1 359.6,211.4 359.9,202.7 360.1,198.5 360.3,208.6 360.5,202.8 360.8,205.1 361.0,204.8 361.2,207.4 361.4,207.1 361.7,207.8 361.9,207.4 362.1,212.5 362.4,206.3 362.6,205.7 362.8,212.5 363.0,204.2 363.3,213.5 363.5,205.0 363.7,202.2 363.9,208.6 364.2,208.2 364.4,209.9 364.6,210.8 364.9,214.6 365.1,212.4 365.3,212.3 365.5,210.7 365.8,211.5 366.0,208.1 366.2,207.2 366.4,204.2 366.7,200.4 366.9,200.5 367.1,198.6 367.4,201.2 367.6,202.5 367.8,209.4 368.0,207.3 368.3,206.7 368.5,208.7 368.7,207.3 368.9,206.8 369.2,212.7 369.4,207.7 369.6,199.5 369.9,205.2 370.1,215.2 370.3,211.1 370.5,213.1 370.8,205.3 371.0,209.4 371.2,211.0 371.4,213.2 371.7,210.7 371.9,211.9 372.1,213.4 372.4,211.2 372.6,213.1 372.8,204.8 373.0,212.6 373.3,211.7 373.5,213.6 373.7,215.1 373.9,210.3 374.2,215.2 374.4,210.9 374.6,214.3 374.9,212.6 375.1,204.9 375.3,213.4 375.5,214.9 375.8,200.4 376.0,199.2 376.2,205.5 376.4,204.4 376.7,211.9 376.9,208.1 377.1,199.0 377.4,204.3 377.6,202.6 377.8,194.1 378.0,190.1 378.3,197.1 378.5,198.9 378.7,207.2 378.9,211.0 379.2,211.5 379.4,212.7 379.6,215.1 379.9,215.9 380.1,215.1 380.3,211.2 380.5,202.4 380.8,209.1 381.0,210.8 381.2,208.6 381.4,208.8 381.7,211.1 381.9,212.4 382.1,209.5 382.3,211.8 382.6,213.3 382.8,215.6 383.0,213.0 383.3,212.7 383.5,204.8 383.7,206.2 383.9,201.9 384.2,198.1 384.4,195.8 384.6,207.1 384.8,198.8 385.1,203.1 385.3,206.0 385.5,208.0 385.8,208.5 386.0,208.3 386.2,214.6 386.4,208.2 386.7,205.3 386.9,211.9 387.1,210.1 387.3,201.3 387.6,203.5 387.8,207.0 388.0,199.4 388.3,205.4 388.5,205.6 388.7,209.0 388.9,208.8 389.2,203.0 389.4,204.1 389.6,210.9 389.8,211.6 390.1,211.8 390.3,212.5 390.5,212.2 390.8,213.5 391.0,213.9 391.2,212.3 391.4,213.9 391.7,210.2 391.9,209.6 392.1,212.3 392.3,212.1 392.6,211.3 392.8,209.0 393.0,206.8 393.3,208.9 393.5,213.2 393.7,207.7 393.9,208.5 394.2,210.3 394.4,210.6 394.6,211.2 394.8,212.8 395.1,212.7 395.3,209.9 395.5,210.4 395.8,210.9 396.0,211.9 396.2,210.7 396.4,209.2 396.7,208.3 396.9,207.7 397.1,205.8 397.3,204.4 397.6,201.8 397.8,203.0 398.0,204.5 398.3,209.8 398.5,205.2 398.7,207.3 398.9,209.5 399.2,209.0 399.4,212.0 399.6,212.7 399.8,214.3 400.1,213.2 400.3,213.9 400.5,211.4 400.8,211.8 401.0,213.3 401.2,212.6 401.4,211.2 401.7,211.8 401.9,205.2 402.1,203.9 402.3,206.3 402.6,213.5 402.8,210.8 403.0,214.9 403.3,213.3 403.5,213.2 403.7,214.3 403.9,215.3 404.2,215.2 404.4,210.8 404.6,211.9 404.8,212.3 405.1,209.9 405.3,209.2 405.5,206.6 405.8,212.2 406.0,214.4 406.2,201.8 406.4,203.3 406.7,207.8 406.9,209.0 407.1,207.2 407.3,213.5 407.6,212.1 407.8,212.3 408.0,210.9 408.3,211.8 408.5,213.7 408.7,214.7 408.9,215.9 409.2,212.8 409.4,214.9 409.6,213.8 409.8,202.8 410.1,205.1 410.3,199.6 410.5,203.4 410.8,199.5 411.0,203.5 411.2,209.4 411.4,205.1 411.7,210.1 411.9,214.4 412.1,214.1 412.3,212.6 412.6,214.7 412.8,212.6 413.0,211.7 413.3,210.4 413.5,211.4 413.7,209.5 413.9,214.6 414.2,213.4 414.4,209.6 414.6,205.3 414.8,206.3 415.1,207.6 415.3,211.3 415.5,212.2 415.8,209.9 416.0,209.4 416.2,209.4 416.4,208.5 416.7,205.7 416.9,213.2 417.1,212.5 417.3,209.6 417.6,210.6 417.8,198.9 418.0,198.3 418.3,203.9 418.5,206.9 418.7,206.4 418.9,210.1 419.2,211.5 419.4,210.2 419.6,210.8 419.8,209.8 420.1,210.3 420.3,209.6 420.5,211.9 420.8,214.0 421.0,212.8 421.2,215.5 421.4,213.3 421.7,207.2 421.9,206.1 422.1,207.2 422.3,199.8 422.6,202.1 422.8,199.5 423.0,199.6 423.2,202.7 423.5,205.3 423.7,208.2 423.9,209.6 424.2,210.2 424.4,211.1 424.6,209.6 424.8,214.0 425.1,212.7 425.3,207.2 425.5,210.6 425.7,207.7 426.0,210.0 426.2,202.6 426.4,197.3 426.7,197.3 426.9,201.7 427.1,209.5 427.3,209.3 427.6,209.4 427.8,208.5 428.0,214.5 428.2,211.4 428.5,214.8 428.7,208.8 428.9,204.4 429.2,201.3 429.4,198.3 429.6,200.8 429.8,208.6 430.1,207.7 430.3,205.8 430.5,209.3 430.7,210.5 431.0,214.5 431.2,209.6 431.4,211.2 431.7,212.6 431.9,212.3 432.1,213.5 432.3,211.7 432.6,203.3 432.8,202.5 433.0,203.4 433.2,205.2 433.5,210.5 433.7,210.2 433.9,208.8 434.2,208.1 434.4,210.8 434.6,214.0 434.8,208.5 435.1,208.5 435.3,211.8 435.5,205.0 435.7,209.9 436.0,214.8 436.2,212.6 436.4,211.0 436.7,209.3 436.9,209.4 437.1,210.7 437.3,211.8 437.6,213.4 437.8,214.7 438.0,214.2 438.2,209.4 438.5,206.2 438.7,200.9 438.9,200.4 439.2,212.4 439.4,200.1 439.6,193.4 439.8,208.2 440.1,214.6 440.3,211.1 440.5,207.4 440.7,213.6 441.0,213.8 441.2,214.6 441.4,215.5 441.7,215.7 441.9,213.9 442.1,213.3 442.3,213.3 442.6,215.6 442.8,202.8 443.0,210.0 443.2,207.2 443.5,213.0 443.7,205.1 443.9,213.8 444.2,208.9 444.4,207.8 444.6,199.1 444.8,210.3 445.1,211.9 445.3,210.7 445.5,202.8" fill="none" stroke="#FF0000" stroke-width="2.0" stroke-linejoin="round"/>
<polyline points="359.4,187.0 359.6,186.2 359.9,187.0 360.1,186.6 360.3,186.6 360.5,185.3 360.8,186.4 361.0,186.1 361.2,186.6 361.4,186.4 361.7,185.8 361.9,186.2 362.1,187.2 362.4,186.1 362.6,185.6 362.8,185.9 363.0,186.1 363.3,186.7 363.5,186.6 363.7,186.2 363.9,186.3 364.2,186.3 364.4,186.5 364.6,185.8 364.9,185.9 365.1,185.3 365.3,185.3 365.5,185.9 365.8,185.1 366.0,184.6 366.2,184.6 366.4,186.0 366.7,184.8 366.9,184.9 367.1,185.2 367.4,185.7 367.6,185.4 367.8,184.6 368.0,185.0 368.3,185.6 368.5,185.7 368.7,185.9 368.9,185.2 369.2,184.5 369.4,185.3 369.6,184.8 369.9,185.0 370.1,185.0 370.3,184.7 370.5,184.5 370.8,185.2 371.0,185.0 371.2,184.0 371.4,184.1 371.7,183.9 371.9,184.7 372.1,185.0 372.4,184.5 372.6,185.3 372.8,185.7 373.0,185.7 373.3,185.6 373.5,186.8 373.7,186.0 373.9,185.6 374.2,186.6 374.4,186.3 374.6,186.1 374.9,186.0 375.1,185.9 375.3,186.8 375.5,187.0 375.8,186.1 376.0,186.4 376.2,186.7 376.4,187.1 376.7,186.2 376.9,187.3 377.1,186.4 377.4,187.2 377.6,186.9 377.8,186.4 378.0,187.2 378.3,186.8 378.5,187.3 378.7,187.3 378.9,187.1 379.2,187.8 379.4,187.5 379.6,186.8 379.9,186.8 380.1,187.4 380.3,187.8 380.5,185.9 380.8,185.9 381.0,186.4 381.2,187.0 381.4,186.8 381.7,186.3 381.9,186.5 382.1,185.4 382.3,185.7 382.6,186.2 382.8,186.6 383.0,186.9 383.3,187.1 383.5,186.3 383.7,186.4 383.9,186.9 384.2,187.0 384.4,186.8 384.6,186.6 384.8,187.1 385.1,187.6 385.3,187.4 385.5,186.7 385.8,187.0 386.0,186.8 386.2,187.1 386.4,186.2 386.7,186.5 386.9,187.1 387.1,187.2 387.3,186.5 387.6,186.6 387.8,186.6 388.0,186.6 388.3,187.5 388.5,187.7 388.7,187.2 388.9,187.7 389.2,187.6 389.4,188.1 389.6,187.8 389.8,188.0 390.1,188.4 390.3,187.2 390.5,187.8 390.8,187.7 391.0,187.4 391.2,187.9 391.4,186.7 391.7,187.7 391.9,187.4 392.1,188.7 392.3,188.2 392.6,188.3 392.8,188.7 393.0,188.6 393.3,188.4 393.5,187.3 393.7,188.0 393.9,188.1 394.2,188.4 394.4,186.6 394.6,186.8 394.8,187.4 395.1,187.7 395.3,188.1 395.5,187.8 395.8,187.4 396.0,187.7 396.2,188.7 396.4,188.4 396.7,188.0 396.9,187.7 397.1,189.1 397.3,188.8 397.6,188.0 397.8,188.3 398.0,188.1 398.3,189.1 398.5,188.1 398.7,189.1 398.9,189.2 399.2,188.5 399.4,187.7 399.6,188.9 399.8,189.5 400.1,188.9 400.3,188.9 400.5,188.2 400.8,189.4 401.0,189.6 401.2,188.6 401.4,188.4 401.7,188.4 401.9,187.7 402.1,189.0 402.3,189.0 402.6,188.8 402.8,188.4 403.0,188.5 403.3,188.5 403.5,188.9 403.7,188.3 403.9,188.2 404.2,187.1 404.4,188.7 404.6,188.3 404.8,189.8 405.1,189.6 405.3,189.2 405.5,188.8 405.8,188.8 406.0,188.8 406.2,187.9 406.4,188.1 406.7,187.2 406.9,187.9 407.1,188.4 407.3,187.9 407.6,188.2 407.8,188.3 408.0,188.1 408.3,187.6 408.5,187.7 408.7,188.2 408.9,187.5 409.2,187.2 409.4,187.8 409.6,188.6 409.8,189.6 410.1,189.6 410.3,188.9 410.5,188.5 410.8,188.8 411.0,188.9 411.2,187.8 411.4,188.7 411.7,188.2 411.9,188.6 412.1,189.5 412.3,188.7 412.6,188.9 412.8,189.5 413.0,189.8 413.3,189.9 413.5,189.6 413.7,189.6 413.9,189.4 414.2,190.3 414.4,189.9 414.6,189.4 414.8,190.3 415.1,190.8 415.3,189.5 415.5,189.4 415.8,189.9 416.0,189.9 416.2,189.8 416.4,189.3 416.7,190.8 416.9,190.4 417.1,189.4 417.3,190.2 417.6,190.0 417.8,192.0 418.0,190.4 418.3,191.1 418.5,191.6 418.7,190.2 418.9,189.8 419.2,189.6 419.4,189.6 419.6,189.6 419.8,189.8 420.1,189.5 420.3,189.1 420.5,189.0 420.8,189.3 421.0,189.2 421.2,188.9 421.4,189.3 421.7,188.7 421.9,188.8 422.1,190.6 422.3,190.3 422.6,191.0 422.8,191.0 423.0,190.3 423.2,190.9 423.5,190.7 423.7,190.1 423.9,189.5 424.2,190.3 424.4,190.5 424.6,190.0 424.8,190.1 425.1,190.4 425.3,190.2 425.5,191.4 425.7,190.8 426.0,191.3 426.2,190.3 426.4,190.5 426.7,191.1 426.9,190.2 427.1,191.4 427.3,190.3 427.6,191.1 427.8,191.3 428.0,191.3 428.2,190.9 428.5,190.6 428.7,190.6 428.9,190.1 429.2,190.5 429.4,190.4 429.6,190.5 429.8,192.1 430.1,191.2 430.3,192.0 430.5,192.0 430.7,191.2 431.0,190.9 431.2,189.7 431.4,190.2 431.7,189.0 431.9,188.4 432.1,188.5 432.3,189.2 432.6,189.6 432.8,190.8 433.0,190.7 433.2,190.4 433.5,190.7 433.7,191.5 433.9,192.3 434.2,191.5 434.4,191.6 434.6,191.9 434.8,191.3 435.1,190.9 435.3,191.7 435.5,191.3 435.7,191.2 436.0,192.5 436.2,192.1 436.4,192.0 436.7,191.9 436.9,191.5 437.1,192.9 437.3,192.3 437.6,192.1 437.8,191.4 438.0,190.7 438.2,192.2 438.5,192.0 438.7,192.5 438.9,191.4 439.2,192.2 439.4,191.5 439.6,191.2 439.8,192.2 440.1,193.1 440.3,193.0 440.5,192.4 440.7,193.6 441.0,193.0 441.2,192.2 441.4,192.1 441.7,192.0 441.9,192.1 442.1,192.2 442.3,191.8 442.6,191.7 442.8,191.6 443.0,192.2 443.2,191.5 443.5,192.8 443.7,191.8 443.9,191.9 444.2,191.5 444.4,191.9 444.6,191.5 444.8,190.9 445.1,192.3 445.3,191.8 445.5,191.8" fill="none" stroke="#548235" stroke-width="2.6" stroke-linejoin="round"/>
<polyline points="456.0,214.6 456.7,214.8 457.4,214.8 458.1,214.6 458.8,214.7 459.4,214.9 460.1,214.6 460.8,214.3 461.5,214.4 462.2,214.6 462.9,214.7 463.5,214.8 464.2,214.8 464.9,214.7 465.6,214.6 466.3,214.5 466.9,214.5 467.6,214.7 468.3,214.6 469.0,214.3 469.7,214.5 470.3,214.7 471.0,214.8 471.7,214.7 472.4,214.5 473.1,214.8 473.8,214.9 474.4,214.8 475.1,214.8 475.8,214.7 476.5,214.6 477.2,214.8 477.8,214.9 478.5,214.9 479.2,214.6 479.9,214.4 480.6,214.8 481.3,215.0 481.9,214.8 482.6,214.7 483.3,214.8 484.0,214.7 484.7,214.4 485.3,214.6 486.0,214.6 486.7,214.6 487.4,215.0 488.1,215.0 488.8,214.8 489.4,214.6 490.1,214.5 490.8,214.5 491.5,214.6 492.2,214.8 492.8,214.8 493.5,214.6 494.2,214.5 494.9,214.7 495.6,215.0 496.3,214.9 496.9,214.6 497.6,214.7 498.3,214.9 499.0,214.9 499.7,214.8 500.3,214.8 501.0,214.6 501.7,214.4 502.4,214.6 503.1,214.8 503.8,214.8 504.4,214.8 505.1,214.8 505.8,214.7 506.5,214.7 507.2,214.7 507.8,214.8 508.5,214.8 509.2,214.9 509.9,215.1 510.6,214.7 511.2,214.5 511.9,214.3 512.6,214.2 513.3,214.5 514.0,214.6 514.7,214.8 515.3,214.8 516.0,214.8 516.7,214.9 517.4,214.8 518.1,214.7 518.7,214.9 519.4,215.1 520.1,214.7 520.8,214.4 521.5,214.5 522.2,214.7 522.8,214.9 523.5,214.9 524.2,214.6 524.9,214.4 525.6,214.5 526.2,214.7 526.9,214.6 527.6,214.6 528.3,214.9 529.0,215.0 529.7,214.9 530.3,214.7 531.0,214.5 531.7,214.4 532.4,214.4 533.1,214.6 533.7,214.8 534.4,214.8 535.1,214.8 535.8,214.6 536.5,214.9 537.2,214.9 537.8,214.7 538.5,215.0 539.2,214.9 539.9,214.7 540.6,214.8 541.2,214.7 541.9,214.8" fill="none" stroke="#7030A0" stroke-width="2.2" stroke-linejoin="round"/>
<polyline points="456.0,133.5 456.3,133.3 456.5,135.1 456.7,128.1 456.9,133.4 457.2,133.3 457.4,134.9 457.6,139.6 457.9,141.1 458.1,140.0 458.3,129.6 458.5,137.7 458.8,138.6 459.0,139.2 459.2,132.8 459.4,128.3 459.7,138.6 459.9,134.4 460.1,135.6 460.4,138.1 460.6,134.5 460.8,142.5 461.0,134.5 461.3,136.1 461.5,141.7 461.7,131.6 461.9,132.4 462.2,132.7 462.4,142.8 462.6,139.5 462.9,140.1 463.1,135.5 463.3,131.7 463.5,144.4 463.8,139.3 464.0,137.8 464.2,132.5 464.4,136.7 464.7,144.1 464.9,140.5 465.1,144.0 465.3,143.8 465.6,139.8 465.8,141.0 466.0,137.2 466.3,144.8 466.5,130.8 466.7,131.5 466.9,133.1 467.2,142.9 467.4,145.3 467.6,143.4 467.8,139.7 468.1,130.0 468.3,129.6 468.5,137.6 468.8,132.2 469.0,131.8 469.2,135.1 469.4,131.6 469.7,133.7 469.9,139.1 470.1,142.3 470.3,138.8 470.6,133.0 470.8,141.3 471.0,143.5 471.3,136.7 471.5,144.0 471.7,132.4 471.9,138.3 472.2,134.6 472.4,132.4 472.6,141.9 472.8,142.2 473.1,133.5 473.3,137.4 473.5,138.4 473.8,136.5 474.0,132.9 474.2,131.3 474.4,135.1 474.7,138.2 474.9,137.3 475.1,135.8 475.3,131.4 475.6,134.7 475.8,130.6 476.0,138.7 476.3,133.7 476.5,129.3 476.7,130.1 476.9,133.5 477.2,141.3 477.4,142.0 477.6,139.2 477.8,135.8 478.1,138.6 478.3,145.1 478.5,143.4 478.8,135.6 479.0,132.5 479.2,144.9 479.4,141.6 479.7,145.8 479.9,142.4 480.1,129.2 480.3,132.9 480.6,137.6 480.8,139.9 481.0,142.0 481.3,144.1 481.5,139.2 481.7,138.3 481.9,129.6 482.2,142.9 482.4,135.2 482.6,130.6 482.8,144.2 483.1,134.7 483.3,143.5 483.5,135.4 483.8,130.1 484.0,134.5 484.2,134.4 484.4,141.0 484.7,135.9 484.9,130.9 485.1,136.6 485.3,137.6 485.6,134.4 485.8,131.6 486.0,144.4 486.3,138.6 486.5,140.8 486.7,135.3 486.9,132.2 487.2,134.0 487.4,131.2 487.6,139.8 487.8,138.8 488.1,140.2 488.3,136.8 488.5,135.9 488.8,137.0 489.0,141.5 489.2,138.1 489.4,139.3 489.7,133.8 489.9,137.4 490.1,131.3 490.3,134.0 490.6,144.7 490.8,140.2 491.0,144.0 491.3,134.0 491.5,130.6 491.7,135.2 491.9,134.2 492.2,142.1 492.4,144.0 492.6,141.8 492.8,138.9 493.1,142.9 493.3,137.8 493.5,135.4 493.8,133.2 494.0,131.0 494.2,131.8 494.4,138.0 494.7,136.6 494.9,134.3 495.1,141.9 495.3,131.9 495.6,132.0 495.8,137.8 496.0,141.6 496.3,130.2 496.5,130.6 496.7,131.7 496.9,130.3 497.2,131.1 497.4,135.1 497.6,133.3 497.8,141.9 498.1,134.7 498.3,143.2 498.5,136.0 498.8,134.2 499.0,143.9 499.2,132.1 499.4,141.0 499.7,133.7 499.9,139.4 500.1,136.1 500.3,140.5 500.6,129.8 500.8,130.7 501.0,130.0 501.3,131.6 501.5,133.0 501.7,135.3 501.9,138.0 502.2,133.9 502.4,135.6 502.6,137.5 502.8,143.6 503.1,140.8 503.3,135.0 503.5,139.3 503.8,135.8 504.0,137.8 504.2,142.8 504.4,142.8 504.7,143.0 504.9,140.5 505.1,139.4 505.3,131.4 505.6,142.1 505.8,145.8 506.0,134.6 506.2,138.8 506.5,137.5 506.7,128.7 506.9,129.1 507.2,131.9 507.4,131.0 507.6,134.7 507.8,131.7 508.1,140.2 508.3,142.5 508.5,141.6 508.7,133.8 509.0,133.1 509.2,139.8 509.4,133.5 509.7,138.2 509.9,134.1 510.1,138.8 510.3,133.8 510.6,137.2 510.8,138.2 511.0,136.7 511.2,135.3 511.5,138.8 511.7,142.3 511.9,130.0 512.2,136.5 512.4,142.4 512.6,143.3 512.8,143.5 513.1,141.2 513.3,130.2 513.5,141.5 513.7,138.5 514.0,143.1 514.2,131.2 514.4,131.1 514.7,132.0 514.9,127.3 515.1,126.7 515.3,126.9 515.6,134.8 515.8,140.4 516.0,139.8 516.2,141.1 516.5,125.6 516.7,131.5 516.9,131.1 517.2,131.1 517.4,124.8 517.6,133.4 517.8,127.2 518.1,129.8 518.3,132.6 518.5,139.1 518.7,128.1 519.0,134.9 519.2,134.5 519.4,130.6 519.7,130.4 519.9,125.2 520.1,132.5 520.3,129.0 520.6,127.3 520.8,128.8 521.0,126.3 521.2,131.2 521.5,125.4 521.7,132.8 521.9,138.3 522.2,132.8 522.4,124.8 522.6,132.8 522.8,134.7 523.1,133.7 523.3,130.2 523.5,131.4 523.7,128.2 524.0,139.2 524.2,124.1 524.4,126.3 524.7,133.8 524.9,125.2 525.1,126.9 525.3,124.9 525.6,134.2 525.8,124.3 526.0,128.0 526.2,137.4 526.5,128.1 526.7,131.2 526.9,135.7 527.2,132.6 527.4,139.4 527.6,128.9 527.8,131.8 528.1,132.3 528.3,124.7 528.5,128.8 528.7,133.9 529.0,136.4 529.2,132.6 529.4,126.2 529.7,132.7 529.9,136.5 530.1,127.1 530.3,130.0 530.6,130.1 530.8,123.9 531.0,134.7 531.2,130.7 531.5,140.7 531.7,134.9 531.9,127.8 532.2,124.2 532.4,136.2 532.6,125.8 532.8,124.4 533.1,128.3 533.3,121.2 533.5,125.4 533.7,134.1 534.0,127.0 534.2,136.5 534.4,122.9 534.7,122.4 534.9,129.1 535.1,125.6 535.3,125.4 535.6,122.7 535.8,131.0 536.0,136.7 536.2,138.6 536.5,133.6 536.7,136.8 536.9,132.2 537.2,127.9 537.4,132.7 537.6,135.6 537.8,125.1 538.1,130.3 538.3,128.7 538.5,125.5 538.7,136.6 539.0,137.8 539.2,123.7 539.4,130.0 539.7,137.6 539.9,134.4 540.1,135.3 540.3,138.7 540.6,135.4 540.8,132.1 541.0,131.2 541.2,127.8 541.5,137.9 541.7,137.4 541.9,128.2 542.2,132.0" fill="none" stroke="#FF0000" stroke-width="2.0" stroke-linejoin="round"/>
<polyline points="456.0,192.1 456.3,191.3 456.5,191.7 456.7,193.0 456.9,192.0 457.2,192.6 457.4,193.4 457.6,192.4 457.9,193.3 458.1,193.8 458.3,191.6 458.5,193.8 458.8,192.3 459.0,193.2 459.2,192.8 459.4,192.8 459.7,192.9 459.9,194.8 460.1,193.6 460.4,193.8 460.6,194.5 460.8,193.7 461.0,193.0 461.3,194.1 461.5,192.6 461.7,193.6 461.9,192.4 462.2,192.0 462.4,190.8 462.6,191.3 462.9,191.5 463.1,190.8 463.3,192.1 463.5,191.1 463.8,192.2 464.0,192.8 464.2,191.6 464.4,191.9 464.7,191.1 464.9,193.1 465.1,192.7 465.3,193.2 465.6,193.3 465.8,194.6 466.0,193.4 466.3,193.2 466.5,194.0 466.7,194.6 466.9,194.6 467.2,192.8 467.4,192.9 467.6,193.1 467.8,192.6 468.1,192.5 468.3,191.8 468.5,191.3 468.8,192.0 469.0,191.5 469.2,192.9 469.4,192.2 469.7,193.0 469.9,192.9 470.1,193.1 470.3,193.7 470.6,194.0 470.8,193.5 471.0,194.4 471.3,195.1 471.5,193.8 471.7,193.2 471.9,193.7 472.2,194.1 472.4,194.7 472.6,194.6 472.8,193.6 473.1,193.6 473.3,193.9 473.5,194.3 473.8,195.0 474.0,193.8 474.2,193.5 474.4,192.4 474.7,191.6 474.9,192.4 475.1,192.2 475.3,193.4 475.6,191.8 475.8,191.5 476.0,191.6 476.3,191.9 476.5,192.1 476.7,191.6 476.9,193.2 477.2,192.8 477.4,192.3 477.6,193.4 477.8,193.9 478.1,193.2 478.3,193.4 478.5,193.1 478.8,192.9 479.0,193.8 479.2,192.8 479.4,191.8 479.7,192.6 479.9,192.8 480.1,194.0 480.3,192.5 480.6,191.2 480.8,193.4 481.0,192.6 481.3,192.4 481.5,193.5 481.7,193.8 481.9,194.2 482.2,194.3 482.4,193.0 482.6,192.7 482.8,192.9 483.1,192.7 483.3,192.9 483.5,193.5 483.8,191.8 484.0,191.9 484.2,193.5 484.4,191.7 484.7,192.8 484.9,193.5 485.1,192.5 485.3,195.3 485.6,195.2 485.8,194.0 486.0,194.7 486.3,195.1 486.5,193.2 486.7,193.8 486.9,194.9 487.2,194.5 487.4,193.6 487.6,192.3 487.8,194.9 488.1,193.5 488.3,193.8 488.5,194.9 488.8,194.8 489.0,195.5 489.2,194.9 489.4,193.2 489.7,193.3 489.9,193.4 490.1,193.6 490.3,193.8 490.6,192.8 490.8,194.1 491.0,193.2 491.3,192.3 491.5,193.3 491.7,193.2 491.9,192.5 492.2,192.2 492.4,193.4 492.6,193.9 492.8,193.4 493.1,193.3 493.3,194.0 493.5,193.3 493.8,192.9 494.0,193.3 494.2,191.0 494.4,191.3 494.7,191.8 494.9,191.8 495.1,190.4 495.3,191.5 495.6,192.5 495.8,192.1 496.0,192.2 496.3,192.5 496.5,192.5 496.7,192.8 496.9,193.2 497.2,193.7 497.4,193.1 497.6,194.6 497.8,193.5 498.1,193.7 498.3,193.6 498.5,195.7 498.8,193.3 499.0,194.9 499.2,194.5 499.4,193.5 499.7,193.9 499.9,193.8 500.1,195.4 500.3,194.7 500.6,194.2 500.8,193.9 501.0,194.1 501.3,193.9 501.5,193.7 501.7,194.3 501.9,194.6 502.2,192.4 502.4,194.2 502.6,192.7 502.8,193.1 503.1,192.1 503.3,193.6 503.5,193.1 503.8,193.4 504.0,194.0 504.2,193.7 504.4,195.0 504.7,194.2 504.9,194.4 505.1,194.3 505.3,195.0 505.6,195.9 505.8,195.3 506.0,194.8 506.2,195.0 506.5,193.3 506.7,193.3 506.9,192.9 507.2,194.1 507.4,193.3 507.6,192.4 507.8,194.0 508.1,193.2 508.3,193.0 508.5,193.1 508.7,192.8 509.0,194.0 509.2,193.5 509.4,194.4 509.7,194.7 509.9,192.4 510.1,193.3 510.3,194.8 510.6,192.9 510.8,194.2 511.0,196.5 511.2,194.0 511.5,193.0 511.7,193.4 511.9,192.8 512.2,194.1 512.4,193.8 512.6,194.1 512.8,193.8 513.1,192.7 513.3,192.8 513.5,193.5 513.7,194.8 514.0,193.7 514.2,193.9 514.4,192.6 514.7,193.5 514.9,193.2 515.1,194.2 515.3,192.3 515.6,194.4 515.8,193.7 516.0,192.1 516.2,193.5 516.5,194.7 516.7,193.8 516.9,193.1 517.2,193.1 517.4,195.0 517.6,193.9 517.8,195.1 518.1,192.7 518.3,193.5 518.5,194.0 518.7,193.3 519.0,193.2 519.2,194.6 519.4,193.1 519.7,194.2 519.9,195.9 520.1,193.9 520.3,193.1 520.6,193.0 520.8,193.4 521.0,194.4 521.2,193.4 521.5,192.6 521.7,193.2 521.9,192.7 522.2,193.9 522.4,193.0 522.6,192.7 522.8,194.8 523.1,195.2 523.3,194.8 523.5,194.2 523.7,194.1 524.0,194.4 524.2,194.5 524.4,194.4 524.7,194.5 524.9,194.4 525.1,194.4 525.3,194.7 525.6,194.8 525.8,195.0 526.0,194.2 526.2,194.8 526.5,193.1 526.7,194.1 526.9,194.4 527.2,195.0 527.4,194.9 527.6,194.5 527.8,194.2 528.1,194.8 528.3,195.0 528.5,194.1 528.7,193.9 529.0,193.6 529.2,192.7 529.4,193.7 529.7,195.0 529.9,194.0 530.1,195.2 530.3,195.0 530.6,193.5 530.8,193.9 531.0,194.7 531.2,194.8 531.5,194.4 531.7,195.9 531.9,194.5 532.2,195.0 532.4,193.0 532.6,194.9 532.8,193.8 533.1,194.4 533.3,193.4 533.5,194.9 533.7,193.9 534.0,194.1 534.2,194.8 534.4,194.1 534.7,194.2 534.9,194.1 535.1,193.2 535.3,193.8 535.6,196.8 535.8,194.9 536.0,196.0 536.2,195.3 536.5,194.0 536.7,195.4 536.9,195.2 537.2,194.2 537.4,194.2 537.6,192.8 537.8,193.1 538.1,193.5 538.3,192.6 538.5,193.6 538.7,193.8 539.0,194.6 539.2,194.2 539.4,193.3 539.7,192.9 539.9,193.7 540.1,194.6 540.3,194.7 540.6,195.2 540.8,194.6 541.0,193.4 541.2,196.1 541.5,196.3 541.7,193.9 541.9,195.9 542.2,195.0" fill="none" stroke="#548235" stroke-width="2.6" stroke-linejoin="round"/>
<polyline points="552.7,215.6 553.3,215.5 554.0,215.8 554.7,215.9 555.4,215.7 556.1,215.7 556.8,215.7 557.4,215.8 558.1,215.7 558.8,215.8 559.5,215.9 560.2,215.8 560.8,215.8 561.5,216.0 562.2,216.0 562.9,215.8 563.6,215.8 564.3,215.8 564.9,215.7 565.6,215.7 566.3,215.6 567.0,215.7 567.7,215.9 568.3,215.9 569.0,215.7 569.7,215.7 570.4,215.7 571.1,215.8 571.8,215.8 572.4,215.6 573.1,215.7 573.8,216.0 574.5,216.1 575.2,215.8 575.8,215.8 576.5,215.8 577.2,215.8 577.9,215.7 578.6,215.7 579.3,215.7 579.9,215.7 580.6,215.7 581.3,215.7 582.0,215.8 582.7,215.7 583.3,215.8 584.0,215.9 584.7,215.9 585.4,216.0 586.1,215.9 586.8,216.0 587.4,215.9 588.1,215.9 588.8,215.9 589.5,215.9 590.2,215.7 590.8,215.8 591.5,215.8 592.2,215.8 592.9,215.8 593.6,215.7 594.2,215.7 594.9,215.7 595.6,215.8 596.3,215.8 597.0,215.6 597.7,215.6 598.3,215.8 599.0,215.8 599.7,215.8 600.4,215.7 601.1,215.7 601.7,215.8 602.4,215.9 603.1,215.7 603.8,215.7 604.5,215.8 605.2,215.7 605.8,215.8 606.5,215.8 607.2,215.8 607.9,215.8 608.6,215.8 609.2,216.0 609.9,216.0 610.6,215.8 611.3,215.7 612.0,215.8 612.7,215.9 613.3,216.0 614.0,215.7 614.7,215.6 615.4,215.9 616.1,215.8 616.7,215.7 617.4,215.8 618.1,215.7 618.8,215.6 619.5,215.6 620.2,215.7 620.8,215.9 621.5,215.7 622.2,215.7 622.9,215.7 623.6,215.9 624.2,215.8 624.9,215.8 625.6,215.9 626.3,215.9 627.0,215.9 627.7,215.8 628.3,216.0 629.0,215.9 629.7,215.6 630.4,215.7 631.1,215.9 631.7,215.9 632.4,215.8 633.1,215.9 633.8,216.0 634.5,215.9 635.1,215.9 635.8,215.9 636.5,215.6 637.2,215.8 637.9,215.8 638.6,215.7" fill="none" stroke="#7030A0" stroke-width="2.2" stroke-linejoin="round"/>
<polyline points="552.7,116.4 552.9,116.6 553.1,117.4 553.3,118.6 553.6,119.5 553.8,116.7 554.0,117.2 554.3,118.0 554.5,117.7 554.7,116.8 554.9,118.7 555.2,119.4 555.4,119.2 555.6,116.1 555.8,118.8 556.1,116.1 556.3,119.4 556.5,117.2 556.8,117.7 557.0,117.8 557.2,119.5 557.4,117.5 557.7,117.4 557.9,116.6 558.1,116.6 558.3,116.7 558.6,119.3 558.8,116.5 559.0,117.7 559.3,116.5 559.5,116.3 559.7,119.2 559.9,118.1 560.2,117.8 560.4,117.4 560.6,116.2 560.8,119.4 561.1,117.4 561.3,117.8 561.5,119.1 561.8,117.1 562.0,117.0 562.2,119.1 562.4,119.2 562.7,117.8 562.9,116.2 563.1,116.6 563.3,117.2 563.6,118.2 563.8,116.2 564.0,117.9 564.3,119.1 564.5,117.5 564.7,119.2 564.9,116.5 565.2,117.8 565.4,117.0 565.6,116.6 565.8,116.8 566.1,116.8 566.3,116.8 566.5,118.2 566.8,119.5 567.0,118.7 567.2,117.3 567.4,118.5 567.7,116.1 567.9,118.5 568.1,117.1 568.3,119.2 568.6,118.0 568.8,116.8 569.0,116.4 569.3,119.4 569.5,116.8 569.7,116.2 569.9,119.5 570.2,116.8 570.4,119.5 570.6,117.3 570.8,116.2 571.1,119.4 571.3,117.0 571.5,119.3 571.8,117.6 572.0,118.5 572.2,117.7 572.4,117.0 572.7,119.0 572.9,118.7 573.1,119.3 573.3,118.3 573.6,119.4 573.8,119.6 574.0,117.2 574.3,117.3 574.5,119.6 574.7,117.5 574.9,117.5 575.2,118.6 575.4,118.8 575.6,119.0 575.8,117.7 576.1,119.3 576.3,118.0 576.5,118.4 576.8,118.1 577.0,117.3 577.2,119.1 577.4,118.8 577.7,118.3 577.9,118.8 578.1,117.6 578.3,119.4 578.6,116.9 578.8,116.9 579.0,119.5 579.3,118.4 579.5,118.8 579.7,118.8 579.9,119.3 580.2,118.3 580.4,117.4 580.6,119.2 580.8,117.6 581.1,117.7 581.3,118.1 581.5,117.3 581.8,118.2 582.0,117.6 582.2,117.2 582.4,117.5 582.7,118.4 582.9,119.3 583.1,118.3 583.3,118.0 583.6,118.1 583.8,119.0 584.0,118.0 584.3,119.3 584.5,119.9 584.7,117.5 584.9,117.6 585.2,119.1 585.4,118.8 585.6,120.4 585.8,117.7 586.1,119.4 586.3,118.7 586.5,120.1 586.8,120.1 587.0,118.9 587.2,118.7 587.4,117.8 587.7,118.6 587.9,118.9 588.1,119.0 588.3,119.9 588.6,119.7 588.8,119.0 589.0,120.4 589.2,120.0 589.5,120.3 589.7,120.7 589.9,119.6 590.2,119.9 590.4,119.4 590.6,119.9 590.8,120.8 591.1,118.7 591.3,120.9 591.5,121.0 591.7,121.0 592.0,119.0 592.2,120.1 592.4,118.7 592.7,120.3 592.9,120.1 593.1,119.4 593.3,118.8 593.6,118.9 593.8,120.3 594.0,119.6 594.2,121.1 594.5,119.9 594.7,119.7 594.9,120.7 595.2,119.8 595.4,120.6 595.6,119.5 595.8,121.3 596.1,120.2 596.3,119.2 596.5,120.0 596.7,119.2 597.0,119.2 597.2,119.7 597.4,119.6 597.7,119.8 597.9,120.4 598.1,119.7 598.3,119.7 598.6,119.6 598.8,121.6 599.0,121.5 599.2,120.6 599.5,120.0 599.7,120.7 599.9,120.8 600.2,121.6 600.4,120.3 600.6,119.5 600.8,120.3 601.1,121.1 601.3,120.2 601.5,120.8 601.7,120.8 602.0,121.5 602.2,120.1 602.4,121.6 602.7,119.8 602.9,121.6 603.1,120.0 603.3,120.9 603.6,120.9 603.8,120.6 604.0,121.2 604.2,121.1 604.5,120.1 604.7,119.7 604.9,121.2 605.2,120.9 605.4,119.5 605.6,120.1 605.8,119.6 606.1,120.7 606.3,119.9 606.5,120.0 606.7,119.9 607.0,120.4 607.2,120.8 607.4,120.6 607.7,121.0 607.9,121.1 608.1,120.5 608.3,119.6 608.6,120.6 608.8,120.1 609.0,119.6 609.2,120.9 609.5,120.4 609.7,120.4 609.9,119.7 610.2,119.3 610.4,120.9 610.6,119.9 610.8,120.8 611.1,120.3 611.3,120.1 611.5,120.2 611.7,120.0 612.0,120.0 612.2,119.7 612.4,120.1 612.7,119.8 612.9,120.1 613.1,119.7 613.3,119.2 613.6,120.3 613.8,118.6 614.0,120.0 614.2,118.9 614.5,119.7 614.7,120.0 614.9,118.8 615.2,119.1 615.4,119.6 615.6,119.3 615.8,118.5 616.1,118.7 616.3,119.4 616.5,119.4 616.7,118.8 617.0,119.5 617.2,119.3 617.4,118.4 617.7,118.5 617.9,119.4 618.1,118.8 618.3,118.8 618.6,118.3 618.8,118.7 619.0,119.0 619.2,118.0 619.5,118.9 619.7,118.3 619.9,118.7 620.2,118.2 620.4,118.8 620.6,117.8 620.8,118.5 621.1,118.0 621.3,117.9 621.5,118.2 621.7,118.1 622.0,118.6 622.2,118.0 622.4,118.0 622.7,117.5 622.9,118.2 623.1,118.4 623.3,118.0 623.6,117.5 623.8,118.4 624.0,118.4 624.2,117.2 624.5,117.7 624.7,117.5 624.9,117.7 625.2,118.0 625.4,117.5 625.6,117.9 625.8,117.7 626.1,117.9 626.3,117.1 626.5,117.6 626.7,117.3 627.0,117.8 627.2,117.3 627.4,117.6 627.7,117.8 627.9,117.6 628.1,117.8 628.3,117.2 628.6,117.3 628.8,116.9 629.0,117.7 629.2,117.3 629.5,116.8 629.7,117.3 629.9,117.6 630.1,116.9 630.4,117.5 630.6,116.9 630.8,117.1 631.1,116.8 631.3,117.1 631.5,116.9 631.7,117.2 632.0,116.6 632.2,117.3 632.4,116.7 632.6,116.8 632.9,117.0 633.1,117.0 633.3,117.3 633.6,116.6 633.8,117.1 634.0,116.5 634.2,116.5 634.5,117.1 634.7,117.0 634.9,116.6 635.1,116.6 635.4,117.2 635.6,116.5 635.8,116.5 636.1,116.6 636.3,116.4 636.5,116.3 636.7,117.0 637.0,116.3 637.2,116.4 637.4,116.6 637.6,117.0 637.9,116.2 638.1,116.4 638.3,116.7 638.6,116.8 638.8,116.2" fill="none" stroke="#FF0000" stroke-width="2.0" stroke-linejoin="round"/>
<polyline points="552.7,203.0 552.9,203.2 553.1,202.8 553.3,203.4 553.6,202.9 553.8,202.2 554.0,203.5 554.3,203.0 554.5,203.0 554.7,203.1 554.9,201.9 555.2,202.6 555.4,202.8 555.6,204.6 555.8,204.0 556.1,203.1 556.3,204.5 556.5,204.4 556.8,205.2 557.0,203.3 557.2,204.6 557.4,205.1 557.7,203.6 557.9,203.0 558.1,203.2 558.3,202.6 558.6,203.4 558.8,203.6 559.0,203.8 559.3,203.9 559.5,204.4 559.7,203.2 559.9,203.3 560.2,203.4 560.4,202.6 560.6,203.6 560.8,205.0 561.1,204.8 561.3,204.5 561.5,205.6 561.8,203.9 562.0,205.1 562.2,205.6 562.4,204.9 562.7,202.8 562.9,203.9 563.1,203.1 563.3,203.7 563.6,204.1 563.8,202.8 564.0,202.9 564.3,203.5 564.5,204.5 564.7,203.8 564.9,204.4 565.2,203.9 565.4,203.6 565.6,202.2 565.8,201.7 566.1,201.8 566.3,201.8 566.5,202.3 566.8,200.2 567.0,200.9 567.2,200.0 567.4,202.5 567.7,203.0 567.9,203.0 568.1,203.7 568.3,204.4 568.6,205.9 568.8,204.4 569.0,204.8 569.3,203.8 569.5,204.7 569.7,206.3 569.9,204.5 570.2,203.1 570.4,204.8 570.6,204.7 570.8,204.0 571.1,203.7 571.3,205.0 571.5,202.1 571.8,202.4 572.0,204.0 572.2,205.5 572.4,204.0 572.7,202.1 572.9,202.9 573.1,202.5 573.3,204.4 573.6,203.2 573.8,204.6 574.0,201.3 574.3,201.9 574.5,204.6 574.7,205.0 574.9,203.2 575.2,203.4 575.4,203.6 575.6,202.8 575.8,201.4 576.1,202.8 576.3,205.4 576.5,203.7 576.8,204.6 577.0,204.0 577.2,203.3 577.4,203.8 577.7,205.1 577.9,204.4 578.1,204.9 578.3,204.4 578.6,204.6 578.8,204.3 579.0,204.7 579.3,203.4 579.5,203.6 579.7,203.7 579.9,204.8 580.2,204.0 580.4,205.7 580.6,201.7 580.8,204.0 581.1,204.1 581.3,204.8 581.5,204.9 581.8,203.4 582.0,204.4 582.2,204.6 582.4,205.2 582.7,205.2 582.9,205.6 583.1,202.7 583.3,204.8 583.6,205.2 583.8,204.1 584.0,202.5 584.3,205.5 584.5,205.9 584.7,204.0 584.9,203.7 585.2,205.1 585.4,205.7 585.6,205.1 585.8,203.0 586.1,202.9 586.3,202.2 586.5,203.1 586.8,203.3 587.0,202.8 587.2,203.3 587.4,203.1 587.7,204.5 587.9,204.6 588.1,203.4 588.3,203.4 588.6,203.6 588.8,202.5 589.0,202.4 589.2,202.6 589.5,203.3 589.7,202.0 589.9,200.1 590.2,203.3 590.4,204.6 590.6,204.0 590.8,204.1 591.1,204.8 591.3,204.7 591.5,202.8 591.7,202.7 592.0,202.0 592.2,202.8 592.4,204.7 592.7,203.5 592.9,204.9 593.1,205.2 593.3,206.1 593.6,203.7 593.8,203.5 594.0,204.8 594.2,204.7 594.5,204.4 594.7,204.2 594.9,203.4 595.2,203.9 595.4,204.1 595.6,205.8 595.8,205.2 596.1,206.5 596.3,203.2 596.5,202.5 596.7,203.3 597.0,203.4 597.2,202.5 597.4,203.0 597.7,205.7 597.9,204.5 598.1,206.5 598.3,205.5 598.6,205.7 598.8,204.6 599.0,203.9 599.2,205.0 599.5,204.5 599.7,204.0 599.9,204.3 600.2,204.6 600.4,206.7 600.6,204.8 600.8,202.8 601.1,203.5 601.3,205.2 601.5,204.6 601.7,204.2 602.0,205.5 602.2,204.1 602.4,205.7 602.7,205.6 602.9,205.2 603.1,203.0 603.3,205.0 603.6,205.4 603.8,204.0 604.0,204.8 604.2,204.2 604.5,206.8 604.7,205.0 604.9,204.9 605.2,206.0 605.4,204.0 605.6,205.4 605.8,206.0 606.1,207.0 606.3,207.2 606.5,205.8 606.7,206.2 607.0,204.2 607.2,202.8 607.4,203.8 607.7,205.0 607.9,203.6 608.1,204.4 608.3,203.9 608.6,204.0 608.8,204.4 609.0,204.5 609.2,203.3 609.5,202.5 609.7,205.1 609.9,204.1 610.2,204.7 610.4,205.9 610.6,204.3 610.8,204.8 611.1,205.1 611.3,204.8 611.5,204.9 611.7,205.8 612.0,203.5 612.2,203.5 612.4,204.1 612.7,203.7 612.9,203.6 613.1,205.0 613.3,204.6 613.6,205.2 613.8,204.7 614.0,205.5 614.2,202.9 614.5,205.0 614.7,204.5 614.9,204.6 615.2,205.6 615.4,204.5 615.6,205.2 615.8,205.4 616.1,205.3 616.3,206.0 616.5,204.5 616.7,204.7 617.0,204.4 617.2,206.7 617.4,205.7 617.7,206.4 617.9,205.5 618.1,203.8 618.3,204.6 618.6,205.4 618.8,204.3 619.0,204.2 619.2,203.0 619.5,206.7 619.7,205.5 619.9,206.2 620.2,206.8 620.4,205.2 620.6,206.3 620.8,207.5 621.1,206.3 621.3,205.5 621.5,203.3 621.7,205.1 622.0,205.7 622.2,206.8 622.4,205.1 622.7,204.8 622.9,204.4 623.1,205.7 623.3,205.4 623.6,206.9 623.8,204.8 624.0,206.1 624.2,207.8 624.5,204.4 624.7,204.2 624.9,204.1 625.2,204.1 625.4,205.7 625.6,204.1 625.8,205.8 626.1,202.8 626.3,203.9 626.5,206.1 626.7,204.2 627.0,202.6 627.2,204.5 627.4,203.4 627.7,204.8 627.9,205.6 628.1,207.4 628.3,204.6 628.6,205.7 628.8,205.4 629.0,206.9 629.2,207.1 629.5,205.2 629.7,206.2 629.9,206.3 630.1,207.1 630.4,205.7 630.6,204.8 630.8,205.7 631.1,205.5 631.3,206.1 631.5,203.9 631.7,205.7 632.0,205.6 632.2,203.5 632.4,205.1 632.6,206.5 632.9,206.4 633.1,206.1 633.3,204.0 633.6,205.1 633.8,205.5 634.0,204.9 634.2,204.4 634.5,206.8 634.7,204.6 634.9,204.9 635.1,205.0 635.4,207.7 635.6,206.1 635.8,204.5 636.1,205.6 636.3,202.9 636.5,205.0 636.7,206.1 637.0,204.9 637.2,205.1 637.4,204.1 637.6,205.2 637.9,203.8 638.1,205.7 638.3,205.5 638.6,206.5 638.8,206.3" fill="none" stroke="#548235" stroke-width="2.6" stroke-linejoin="round"/>
<line x1="69.80" y1="628.00" x2="322.30" y2="628.00" stroke="#E6E6E6" stroke-width="1.5"/>
<line x1="69.80" y1="606.18" x2="322.30" y2="606.18" stroke="#E6E6E6" stroke-width="1.5"/>
<line x1="69.80" y1="584.36" x2="322.30" y2="584.36" stroke="#E6E6E6" stroke-width="1.5"/>
<line x1="69.80" y1="562.54" x2="322.30" y2="562.54" stroke="#E6E6E6" stroke-width="1.5"/>
<line x1="69.80" y1="540.72" x2="322.30" y2="540.72" stroke="#E6E6E6" stroke-width="1.5"/>
<line x1="69.80" y1="518.90" x2="322.30" y2="518.90" stroke="#E6E6E6" stroke-width="1.5"/>
<line x1="69.80" y1="497.08" x2="322.30" y2="497.08" stroke="#E6E6E6" stroke-width="1.5"/>
<line x1="69.80" y1="475.26" x2="322.30" y2="475.26" stroke="#E6E6E6" stroke-width="1.5"/>
<line x1="69.80" y1="453.44" x2="322.30" y2="453.44" stroke="#E6E6E6" stroke-width="1.5"/>
<line x1="69.80" y1="431.62" x2="322.30" y2="431.62" stroke="#E6E6E6" stroke-width="1.5"/>
<line x1="69.80" y1="409.80" x2="322.30" y2="409.80" stroke="#E6E6E6" stroke-width="1.5"/>
<text x="82.03" y="356.80" font-size="15.0" textLength="165.90" lengthAdjust="spacingAndGlyphs" fill="#303030">MCA ± SCV - Colon (circ)</text>
<path d="M107.10,386.12L114.10,386.12L110.60,379.48Z" fill="#7030A0"/>
<text x="118.21" y="387.00" font-size="12.0" textLength="23.15" lengthAdjust="spacingAndGlyphs" fill="#3A3A3A">OEE</text>
<rect x="152.50" y="379.60" width="6.40" height="6.40" fill="#FF0000"/>
<text x="163.24" y="387.00" font-size="12.0" textLength="22.10" lengthAdjust="spacingAndGlyphs" fill="#3A3A3A">HSE</text>
<circle cx="199.90" cy="382.80" r="3.40" fill="#548235"/>
<text x="206.93" y="387.00" font-size="12.0" textLength="22.71" lengthAdjust="spacingAndGlyphs" fill="#3A3A3A">HM</text>
<text x="31.18" y="632.65" font-size="13.3" textLength="25.19" lengthAdjust="spacingAndGlyphs" fill="#595959">0.00</text>
<text x="31.18" y="610.83" font-size="13.3" textLength="25.19" lengthAdjust="spacingAndGlyphs" fill="#595959">0.20</text>
<text x="31.18" y="589.01" font-size="13.3" textLength="25.19" lengthAdjust="spacingAndGlyphs" fill="#595959">0.40</text>
<text x="31.18" y="567.19" font-size="13.3" textLength="25.19" lengthAdjust="spacingAndGlyphs" fill="#595959">0.60</text>
<text x="31.18" y="545.37" font-size="13.3" textLength="25.19" lengthAdjust="spacingAndGlyphs" fill="#595959">0.80</text>
<text x="30.71" y="523.55" font-size="13.3" textLength="25.67" lengthAdjust="spacingAndGlyphs" fill="#595959">1.00</text>
<text x="30.71" y="501.73" font-size="13.3" textLength="25.67" lengthAdjust="spacingAndGlyphs" fill="#595959">1.20</text>
<text x="30.71" y="479.91" font-size="13.3" textLength="25.67" lengthAdjust="spacingAndGlyphs" fill="#595959">1.40</text>
<text x="30.71" y="458.09" font-size="13.3" textLength="25.67" lengthAdjust="spacingAndGlyphs" fill="#595959">1.60</text>
<text x="30.71" y="436.27" font-size="13.3" textLength="25.67" lengthAdjust="spacingAndGlyphs" fill="#595959">1.80</text>
<text x="31.05" y="414.45" font-size="13.3" textLength="25.32" lengthAdjust="spacingAndGlyphs" fill="#595959">2.00</text>
<text transform="rotate(-90)" x="-562.26" y="24.30" font-size="14.3" textLength="87.20" lengthAdjust="spacingAndGlyphs" fill="#3A3A3A">Contraction (g)</text>
<text x="81.68" y="647.20" font-size="9.5" textLength="19.08" lengthAdjust="spacingAndGlyphs" fill="#595959">CTR</text>
<text x="126.06" y="647.20" font-size="9.5" textLength="14.59" lengthAdjust="spacingAndGlyphs" fill="#595959">0.1</text>
<text x="115.79" y="662.00" font-size="9.5" textLength="34.69" lengthAdjust="spacingAndGlyphs" fill="#595959">mg/mL</text>
<text x="168.14" y="647.20" font-size="9.5" textLength="14.54" lengthAdjust="spacingAndGlyphs" fill="#595959">0.5</text>
<text x="157.87" y="662.00" font-size="9.5" textLength="34.69" lengthAdjust="spacingAndGlyphs" fill="#595959">mg/mL</text>
<text x="209.84" y="647.20" font-size="9.5" textLength="14.88" lengthAdjust="spacingAndGlyphs" fill="#595959">1.0</text>
<text x="199.95" y="662.00" font-size="9.5" textLength="34.69" lengthAdjust="spacingAndGlyphs" fill="#595959">mg/mL</text>
<text x="252.31" y="647.20" font-size="9.5" textLength="14.48" lengthAdjust="spacingAndGlyphs" fill="#595959">5.0</text>
<text x="242.04" y="662.00" font-size="9.5" textLength="34.69" lengthAdjust="spacingAndGlyphs" fill="#595959">mg/mL</text>
<text x="291.65" y="647.20" font-size="9.5" textLength="19.62" lengthAdjust="spacingAndGlyphs" fill="#595959">10.0</text>
<text x="284.12" y="662.00" font-size="9.5" textLength="34.69" lengthAdjust="spacingAndGlyphs" fill="#595959">mg/mL</text>
<line x1="90.84" y1="509.08" x2="90.84" y2="519.99" stroke="#7F7F7F" stroke-width="1"/>
<line x1="88.04" y1="509.08" x2="93.64" y2="509.08" stroke="#7F7F7F" stroke-width="1"/>
<line x1="88.04" y1="519.99" x2="93.64" y2="519.99" stroke="#7F7F7F" stroke-width="1"/>
<line x1="132.93" y1="513.01" x2="132.93" y2="523.48" stroke="#7F7F7F" stroke-width="1"/>
<line x1="130.12" y1="513.01" x2="135.73" y2="513.01" stroke="#7F7F7F" stroke-width="1"/>
<line x1="130.12" y1="523.48" x2="135.73" y2="523.48" stroke="#7F7F7F" stroke-width="1"/>
<line x1="175.01" y1="514.32" x2="175.01" y2="531.77" stroke="#7F7F7F" stroke-width="1"/>
<line x1="172.21" y1="514.32" x2="177.81" y2="514.32" stroke="#7F7F7F" stroke-width="1"/>
<line x1="172.21" y1="531.77" x2="177.81" y2="531.77" stroke="#7F7F7F" stroke-width="1"/>
<line x1="217.09" y1="537.77" x2="217.09" y2="553.05" stroke="#7F7F7F" stroke-width="1"/>
<line x1="214.29" y1="537.77" x2="219.89" y2="537.77" stroke="#7F7F7F" stroke-width="1"/>
<line x1="214.29" y1="553.05" x2="219.89" y2="553.05" stroke="#7F7F7F" stroke-width="1"/>
<line x1="259.18" y1="437.73" x2="259.18" y2="453.00" stroke="#7F7F7F" stroke-width="1"/>
<line x1="256.38" y1="437.73" x2="261.98" y2="437.73" stroke="#7F7F7F" stroke-width="1"/>
<line x1="256.38" y1="453.00" x2="261.98" y2="453.00" stroke="#7F7F7F" stroke-width="1"/>
<path d="M87.24,551.56L94.44,551.56L90.84,544.72Z" fill="#7030A0"/>
<path d="M129.33,556.90L136.53,556.90L132.93,550.06Z" fill="#7030A0"/>
<path d="M171.41,554.18L178.61,554.18L175.01,547.34Z" fill="#7030A0"/>
<path d="M213.49,555.05L220.69,555.05L217.09,548.21Z" fill="#7030A0"/>
<path d="M255.58,557.23L262.78,557.23L259.18,550.39Z" fill="#7030A0"/>
<path d="M297.66,559.41L304.86,559.41L301.26,552.57Z" fill="#7030A0"/>
<rect x="87.34" y="511.04" width="7.00" height="7.00" fill="#FF0000"/>
<rect x="129.43" y="514.75" width="7.00" height="7.00" fill="#FF0000"/>
<rect x="171.51" y="519.55" width="7.00" height="7.00" fill="#FF0000"/>
<rect x="213.59" y="541.91" width="7.00" height="7.00" fill="#FF0000"/>
<rect x="255.68" y="441.87" width="7.00" height="7.00" fill="#FF0000"/>
<rect x="297.76" y="421.25" width="7.00" height="7.00" fill="#FF0000"/>
<circle cx="90.84" cy="513.99" r="3.40" fill="#548235"/>
<circle cx="132.93" cy="508.86" r="3.40" fill="#548235"/>
<circle cx="175.01" cy="511.81" r="3.40" fill="#548235"/>
<circle cx="217.09" cy="517.92" r="3.40" fill="#548235"/>
<circle cx="259.18" cy="525.45" r="3.40" fill="#548235"/>
<circle cx="301.26" cy="539.96" r="3.40" fill="#548235"/>
<line x1="408.00" y1="409.95" x2="664.00" y2="409.95" stroke="#E6E6E6" stroke-width="1.5"/>
<line x1="408.00" y1="441.08" x2="664.00" y2="441.08" stroke="#E6E6E6" stroke-width="1.5"/>
<line x1="408.00" y1="472.21" x2="664.00" y2="472.21" stroke="#E6E6E6" stroke-width="1.5"/>
<line x1="408.00" y1="503.34" x2="664.00" y2="503.34" stroke="#E6E6E6" stroke-width="1.5"/>
<line x1="408.00" y1="534.47" x2="664.00" y2="534.47" stroke="#E6E6E6" stroke-width="1.5"/>
<line x1="408.00" y1="565.60" x2="664.00" y2="565.60" stroke="#E6E6E6" stroke-width="1.5"/>
<line x1="408.00" y1="596.73" x2="664.00" y2="596.73" stroke="#E6E6E6" stroke-width="1.5"/>
<line x1="408.00" y1="627.86" x2="664.00" y2="627.86" stroke="#E6E6E6" stroke-width="1.5"/>
<text x="440.69" y="356.80" font-size="14.6" textLength="132.28" lengthAdjust="spacingAndGlyphs" fill="#303030">BSMA - Colon (circ)</text>
<path d="M448.30,386.12L455.30,386.12L451.80,379.48Z" fill="#7030A0"/>
<text x="459.80" y="387.00" font-size="12.0" textLength="23.26" lengthAdjust="spacingAndGlyphs" fill="#3A3A3A">OEE</text>
<rect x="494.10" y="379.60" width="6.40" height="6.40" fill="#FF0000"/>
<text x="504.33" y="387.00" font-size="12.0" textLength="22.42" lengthAdjust="spacingAndGlyphs" fill="#3A3A3A">HSE</text>
<circle cx="541.00" cy="382.80" r="3.40" fill="#375623"/>
<text x="548.56" y="387.00" font-size="12.0" textLength="22.15" lengthAdjust="spacingAndGlyphs" fill="#3A3A3A">HM</text>
<text x="372.18" y="414.45" font-size="12.8" textLength="22.75" lengthAdjust="spacingAndGlyphs" fill="#595959">100</text>
<text x="379.58" y="445.58" font-size="12.8" textLength="15.34" lengthAdjust="spacingAndGlyphs" fill="#595959">80</text>
<text x="379.51" y="476.71" font-size="12.8" textLength="15.41" lengthAdjust="spacingAndGlyphs" fill="#595959">60</text>
<text x="379.93" y="507.84" font-size="12.8" textLength="14.97" lengthAdjust="spacingAndGlyphs" fill="#595959">40</text>
<text x="379.51" y="538.97" font-size="12.8" textLength="15.41" lengthAdjust="spacingAndGlyphs" fill="#595959">20</text>
<text x="387.68" y="570.10" font-size="12.8" textLength="7.18" lengthAdjust="spacingAndGlyphs" fill="#595959">0</text>
<text x="375.29" y="601.23" font-size="12.8" textLength="19.59" lengthAdjust="spacingAndGlyphs" fill="#595959">-20</text>
<text x="375.29" y="632.36" font-size="12.8" textLength="19.59" lengthAdjust="spacingAndGlyphs" fill="#595959">-40</text>
<text transform="rotate(-90)" x="-551.56" y="365.00" font-size="13.6" textLength="65.55" lengthAdjust="spacingAndGlyphs" fill="#3A3A3A">% variation</text>
<text x="419.97" y="647.20" font-size="9.5" textLength="19.08" lengthAdjust="spacingAndGlyphs" fill="#595959">CTR</text>
<text x="464.93" y="647.20" font-size="9.5" textLength="14.59" lengthAdjust="spacingAndGlyphs" fill="#595959">0.1</text>
<text x="454.66" y="662.00" font-size="9.5" textLength="34.69" lengthAdjust="spacingAndGlyphs" fill="#595959">mg/mL</text>
<text x="507.60" y="647.20" font-size="9.5" textLength="14.54" lengthAdjust="spacingAndGlyphs" fill="#595959">0.5</text>
<text x="497.33" y="662.00" font-size="9.5" textLength="34.69" lengthAdjust="spacingAndGlyphs" fill="#595959">mg/mL</text>
<text x="549.88" y="647.20" font-size="9.5" textLength="14.88" lengthAdjust="spacingAndGlyphs" fill="#595959">1.0</text>
<text x="540.00" y="662.00" font-size="9.5" textLength="34.69" lengthAdjust="spacingAndGlyphs" fill="#595959">mg/mL</text>
<text x="592.93" y="647.20" font-size="9.5" textLength="14.48" lengthAdjust="spacingAndGlyphs" fill="#595959">5.0</text>
<text x="582.66" y="662.00" font-size="9.5" textLength="34.69" lengthAdjust="spacingAndGlyphs" fill="#595959">mg/mL</text>
<text x="632.86" y="647.20" font-size="9.5" textLength="19.62" lengthAdjust="spacingAndGlyphs" fill="#595959">10.0</text>
<text x="625.33" y="662.00" font-size="9.5" textLength="34.69" lengthAdjust="spacingAndGlyphs" fill="#595959">mg/mL</text>
<path d="M425.73,569.02L432.93,569.02L429.33,562.18Z" fill="#7030A0"/>
<path d="M468.40,579.76L475.60,579.76L472.00,572.92Z" fill="#7030A0"/>
<path d="M511.07,574.16L518.27,574.16L514.67,567.32Z" fill="#7030A0"/>
<path d="M553.73,576.49L560.93,576.49L557.33,569.65Z" fill="#7030A0"/>
<path d="M596.40,581.16L603.60,581.16L600.00,574.32Z" fill="#7030A0"/>
<path d="M639.07,584.59L646.27,584.59L642.67,577.75Z" fill="#7030A0"/>
<rect x="425.83" y="562.10" width="7.00" height="7.00" fill="#FF0000"/>
<rect x="468.50" y="567.08" width="7.00" height="7.00" fill="#FF0000"/>
<rect x="511.17" y="574.24" width="7.00" height="7.00" fill="#FF0000"/>
<rect x="553.83" y="604.59" width="7.00" height="7.00" fill="#FF0000"/>
<rect x="596.50" y="467.78" width="7.00" height="7.00" fill="#FF0000"/>
<rect x="639.17" y="439.14" width="7.00" height="7.00" fill="#FF0000"/>
<circle cx="429.33" cy="565.60" r="3.40" fill="#375623"/>
<circle cx="472.00" cy="558.60" r="3.40" fill="#375623"/>
<circle cx="514.67" cy="562.80" r="3.40" fill="#375623"/>
<circle cx="557.33" cy="571.05" r="3.40" fill="#375623"/>
<circle cx="600.00" cy="581.79" r="3.40" fill="#375623"/>
<circle cx="642.67" cy="600.93" r="3.40" fill="#375623"/>
<text x="682.39" y="530.88" font-size="32.94" textLength="41.23" lengthAdjust="spacingAndGlyphs" fill="#000000" font-weight="bold">(b)</text>
<line x1="44.70" y1="839.60" x2="200.30" y2="839.60" stroke="#F0F0F0" stroke-width="1.8"/>
<line x1="44.70" y1="824.44" x2="200.30" y2="824.44" stroke="#F0F0F0" stroke-width="1.8"/>
<line x1="44.70" y1="809.29" x2="200.30" y2="809.29" stroke="#F0F0F0" stroke-width="1.8"/>
<line x1="44.70" y1="794.13" x2="200.30" y2="794.13" stroke="#F0F0F0" stroke-width="1.8"/>
<line x1="44.70" y1="778.98" x2="200.30" y2="778.98" stroke="#F0F0F0" stroke-width="1.8"/>
<line x1="44.70" y1="763.82" x2="200.30" y2="763.82" stroke="#F0F0F0" stroke-width="1.8"/>
<line x1="44.70" y1="748.67" x2="200.30" y2="748.67" stroke="#F0F0F0" stroke-width="1.8"/>
<line x1="44.70" y1="733.51" x2="200.30" y2="733.51" stroke="#F0F0F0" stroke-width="1.8"/>
<line x1="44.70" y1="718.36" x2="200.30" y2="718.36" stroke="#F0F0F0" stroke-width="1.8"/>
<line x1="44.70" y1="703.20" x2="200.30" y2="703.20" stroke="#F0F0F0" stroke-width="1.8"/>
<text x="51.89" y="690.90" font-size="9.3" textLength="98.19" lengthAdjust="spacingAndGlyphs" fill="#303030">PSD - Colon (circ) - OEE</text>
<text x="16.92" y="842.30" font-size="7.6" textLength="21.31" lengthAdjust="spacingAndGlyphs" fill="#595959">0.0000</text>
<text x="16.92" y="827.14" font-size="7.6" textLength="21.35" lengthAdjust="spacingAndGlyphs" fill="#595959">0.0005</text>
<text x="16.92" y="811.99" font-size="7.6" textLength="21.31" lengthAdjust="spacingAndGlyphs" fill="#595959">0.0010</text>
<text x="16.92" y="796.83" font-size="7.6" textLength="21.35" lengthAdjust="spacingAndGlyphs" fill="#595959">0.0015</text>
<text x="16.92" y="781.68" font-size="7.6" textLength="21.31" lengthAdjust="spacingAndGlyphs" fill="#595959">0.0020</text>
<text x="16.92" y="766.52" font-size="7.6" textLength="21.35" lengthAdjust="spacingAndGlyphs" fill="#595959">0.0025</text>
<text x="16.92" y="751.37" font-size="7.6" textLength="21.31" lengthAdjust="spacingAndGlyphs" fill="#595959">0.0030</text>
<text x="16.92" y="736.21" font-size="7.6" textLength="21.35" lengthAdjust="spacingAndGlyphs" fill="#595959">0.0035</text>
<text x="16.92" y="721.06" font-size="7.6" textLength="21.31" lengthAdjust="spacingAndGlyphs" fill="#595959">0.0040</text>
<text x="16.92" y="705.90" font-size="7.6" textLength="21.35" lengthAdjust="spacingAndGlyphs" fill="#595959">0.0045</text>
<text transform="rotate(-90)" x="-790.86" y="12.30" font-size="8.2" textLength="38.79" lengthAdjust="spacingAndGlyphs" fill="#3A3A3A">Power (g²)</text>
<text x="51.73" y="851.90" font-size="6.6" textLength="11.85" lengthAdjust="spacingAndGlyphs" fill="#595959">CTR</text>
<text x="78.82" y="851.90" font-size="6.6" textLength="9.59" lengthAdjust="spacingAndGlyphs" fill="#595959">0.1</text>
<text x="72.64" y="861.00" font-size="6.6" textLength="21.68" lengthAdjust="spacingAndGlyphs" fill="#595959">mg/mL</text>
<text x="104.76" y="851.90" font-size="6.6" textLength="9.55" lengthAdjust="spacingAndGlyphs" fill="#595959">0.5</text>
<text x="98.57" y="861.00" font-size="6.6" textLength="21.68" lengthAdjust="spacingAndGlyphs" fill="#595959">mg/mL</text>
<text x="130.44" y="851.90" font-size="6.6" textLength="9.77" lengthAdjust="spacingAndGlyphs" fill="#595959">1.0</text>
<text x="124.51" y="861.00" font-size="6.6" textLength="21.68" lengthAdjust="spacingAndGlyphs" fill="#595959">mg/mL</text>
<text x="156.63" y="851.90" font-size="6.6" textLength="9.51" lengthAdjust="spacingAndGlyphs" fill="#595959">5.0</text>
<text x="150.44" y="861.00" font-size="6.6" textLength="21.68" lengthAdjust="spacingAndGlyphs" fill="#595959">mg/mL</text>
<text x="181.11" y="851.90" font-size="6.6" textLength="12.20" lengthAdjust="spacingAndGlyphs" fill="#595959">10.0</text>
<text x="176.37" y="861.00" font-size="6.6" textLength="21.68" lengthAdjust="spacingAndGlyphs" fill="#595959">mg/mL</text>
<rect x="71.60" y="873.50" width="4.40" height="4.40" fill="#4472C4"/>
<text x="78.25" y="877.90" font-size="7.4" textLength="8.04" lengthAdjust="spacingAndGlyphs" fill="#3A3A3A">LF</text>
<rect x="92.00" y="873.50" width="4.40" height="4.40" fill="#ED7D31"/>
<text x="99.17" y="877.90" font-size="7.4" textLength="11.44" lengthAdjust="spacingAndGlyphs" fill="#3A3A3A">MF</text>
<rect x="116.90" y="873.50" width="4.40" height="4.40" fill="#A5A5A5"/>
<text x="124.02" y="877.90" font-size="7.4" textLength="9.69" lengthAdjust="spacingAndGlyphs" fill="#3A3A3A">HF</text>
<rect x="49.87" y="838.69" width="4.20" height="0.91" fill="#4472C4"/>
<rect x="75.80" y="838.80" width="4.20" height="0.80" fill="#4472C4"/>
<rect x="101.73" y="838.80" width="4.20" height="0.80" fill="#4472C4"/>
<line x1="279.70" y1="838.00" x2="434.40" y2="838.00" stroke="#F0F0F0" stroke-width="1.8"/>
<line x1="279.70" y1="822.80" x2="434.40" y2="822.80" stroke="#F0F0F0" stroke-width="1.8"/>
<line x1="279.70" y1="807.60" x2="434.40" y2="807.60" stroke="#F0F0F0" stroke-width="1.8"/>
<line x1="279.70" y1="792.40" x2="434.40" y2="792.40" stroke="#F0F0F0" stroke-width="1.8"/>
<line x1="279.70" y1="777.20" x2="434.40" y2="777.20" stroke="#F0F0F0" stroke-width="1.8"/>
<line x1="279.70" y1="762.00" x2="434.40" y2="762.00" stroke="#F0F0F0" stroke-width="1.8"/>
<line x1="279.70" y1="746.80" x2="434.40" y2="746.80" stroke="#F0F0F0" stroke-width="1.8"/>
<line x1="279.70" y1="731.60" x2="434.40" y2="731.60" stroke="#F0F0F0" stroke-width="1.8"/>
<line x1="279.70" y1="716.40" x2="434.40" y2="716.40" stroke="#F0F0F0" stroke-width="1.8"/>
<line x1="279.70" y1="701.20" x2="434.40" y2="701.20" stroke="#F0F0F0" stroke-width="1.8"/>
<text x="286.28" y="689.40" font-size="9.3" textLength="98.79" lengthAdjust="spacingAndGlyphs" fill="#303030">PSD - Colon (circ) - HSE</text>
<text x="252.02" y="840.70" font-size="7.6" textLength="21.31" lengthAdjust="spacingAndGlyphs" fill="#595959">0.0000</text>
<text x="252.02" y="825.50" font-size="7.6" textLength="21.35" lengthAdjust="spacingAndGlyphs" fill="#595959">0.0005</text>
<text x="252.02" y="810.30" font-size="7.6" textLength="21.31" lengthAdjust="spacingAndGlyphs" fill="#595959">0.0010</text>
<text x="252.02" y="795.10" font-size="7.6" textLength="21.35" lengthAdjust="spacingAndGlyphs" fill="#595959">0.0015</text>
<text x="252.02" y="779.90" font-size="7.6" textLength="21.31" lengthAdjust="spacingAndGlyphs" fill="#595959">0.0020</text>
<text x="252.02" y="764.70" font-size="7.6" textLength="21.35" lengthAdjust="spacingAndGlyphs" fill="#595959">0.0025</text>
<text x="252.02" y="749.50" font-size="7.6" textLength="21.31" lengthAdjust="spacingAndGlyphs" fill="#595959">0.0030</text>
<text x="252.02" y="734.30" font-size="7.6" textLength="21.35" lengthAdjust="spacingAndGlyphs" fill="#595959">0.0035</text>
<text x="252.02" y="719.10" font-size="7.6" textLength="21.31" lengthAdjust="spacingAndGlyphs" fill="#595959">0.0040</text>
<text x="252.02" y="703.90" font-size="7.6" textLength="21.35" lengthAdjust="spacingAndGlyphs" fill="#595959">0.0045</text>
<text transform="rotate(-90)" x="-789.97" y="247.20" font-size="8.2" textLength="39.30" lengthAdjust="spacingAndGlyphs" fill="#3A3A3A">Power (g²)</text>
<text x="286.65" y="850.70" font-size="6.6" textLength="11.85" lengthAdjust="spacingAndGlyphs" fill="#595959">CTR</text>
<text x="313.60" y="850.70" font-size="6.6" textLength="9.59" lengthAdjust="spacingAndGlyphs" fill="#595959">0.1</text>
<text x="307.41" y="859.60" font-size="6.6" textLength="21.68" lengthAdjust="spacingAndGlyphs" fill="#595959">mg/mL</text>
<text x="339.38" y="850.70" font-size="6.6" textLength="9.55" lengthAdjust="spacingAndGlyphs" fill="#595959">0.5</text>
<text x="333.20" y="859.60" font-size="6.6" textLength="21.68" lengthAdjust="spacingAndGlyphs" fill="#595959">mg/mL</text>
<text x="364.91" y="850.70" font-size="6.6" textLength="9.77" lengthAdjust="spacingAndGlyphs" fill="#595959">1.0</text>
<text x="358.98" y="859.60" font-size="6.6" textLength="21.68" lengthAdjust="spacingAndGlyphs" fill="#595959">mg/mL</text>
<text x="390.95" y="850.70" font-size="6.6" textLength="9.51" lengthAdjust="spacingAndGlyphs" fill="#595959">5.0</text>
<text x="384.76" y="859.60" font-size="6.6" textLength="21.68" lengthAdjust="spacingAndGlyphs" fill="#595959">mg/mL</text>
<text x="415.29" y="850.70" font-size="6.6" textLength="12.20" lengthAdjust="spacingAndGlyphs" fill="#595959">10.0</text>
<text x="410.55" y="859.60" font-size="6.6" textLength="21.68" lengthAdjust="spacingAndGlyphs" fill="#595959">mg/mL</text>
<rect x="306.30" y="872.30" width="4.40" height="4.40" fill="#4472C4"/>
<text x="312.93" y="876.70" font-size="7.4" textLength="8.38" lengthAdjust="spacingAndGlyphs" fill="#3A3A3A">LF</text>
<rect x="326.80" y="872.30" width="4.40" height="4.40" fill="#ED7D31"/>
<text x="334.15" y="876.70" font-size="7.4" textLength="11.66" lengthAdjust="spacingAndGlyphs" fill="#3A3A3A">MF</text>
<rect x="351.70" y="872.30" width="4.40" height="4.40" fill="#A5A5A5"/>
<text x="358.41" y="876.70" font-size="7.4" textLength="9.81" lengthAdjust="spacingAndGlyphs" fill="#3A3A3A">HF</text>
<rect x="284.79" y="790.27" width="4.20" height="47.73" fill="#4472C4"/>
<rect x="290.49" y="821.89" width="4.20" height="16.11" fill="#ED7D31"/>
<rect x="296.19" y="837.20" width="4.20" height="0.80" fill="#A5A5A5"/>
<rect x="310.57" y="787.54" width="4.20" height="50.46" fill="#4472C4"/>
<rect x="316.27" y="811.86" width="4.20" height="26.14" fill="#ED7D31"/>
<rect x="321.97" y="837.20" width="4.20" height="0.80" fill="#A5A5A5"/>
<rect x="336.36" y="709.71" width="4.20" height="128.29" fill="#4472C4"/>
<rect x="342.06" y="789.66" width="4.20" height="48.34" fill="#ED7D31"/>
<rect x="347.76" y="837.09" width="4.20" height="0.91" fill="#A5A5A5"/>
<rect x="362.14" y="725.52" width="4.20" height="112.48" fill="#4472C4"/>
<rect x="367.84" y="798.78" width="4.20" height="39.22" fill="#ED7D31"/>
<rect x="373.54" y="837.20" width="4.20" height="0.80" fill="#A5A5A5"/>
<rect x="387.92" y="782.67" width="4.20" height="55.33" fill="#4472C4"/>
<rect x="393.62" y="788.75" width="4.20" height="49.25" fill="#ED7D31"/>
<rect x="399.32" y="837.09" width="4.20" height="0.91" fill="#A5A5A5"/>
<rect x="413.71" y="833.44" width="4.20" height="4.56" fill="#4472C4"/>
<rect x="419.41" y="837.09" width="4.20" height="0.91" fill="#ED7D31"/>
<rect x="425.11" y="837.20" width="4.20" height="0.80" fill="#A5A5A5"/>
<line x1="514.80" y1="839.80" x2="669.30" y2="839.80" stroke="#F0F0F0" stroke-width="1.8"/>
<line x1="514.80" y1="824.60" x2="669.30" y2="824.60" stroke="#F0F0F0" stroke-width="1.8"/>
<line x1="514.80" y1="809.40" x2="669.30" y2="809.40" stroke="#F0F0F0" stroke-width="1.8"/>
<line x1="514.80" y1="794.20" x2="669.30" y2="794.20" stroke="#F0F0F0" stroke-width="1.8"/>
<line x1="514.80" y1="779.00" x2="669.30" y2="779.00" stroke="#F0F0F0" stroke-width="1.8"/>
<line x1="514.80" y1="763.80" x2="669.30" y2="763.80" stroke="#F0F0F0" stroke-width="1.8"/>
<line x1="514.80" y1="748.60" x2="669.30" y2="748.60" stroke="#F0F0F0" stroke-width="1.8"/>
<line x1="514.80" y1="733.40" x2="669.30" y2="733.40" stroke="#F0F0F0" stroke-width="1.8"/>
<line x1="514.80" y1="718.20" x2="669.30" y2="718.20" stroke="#F0F0F0" stroke-width="1.8"/>
<line x1="514.80" y1="703.00" x2="669.30" y2="703.00" stroke="#F0F0F0" stroke-width="1.8"/>
<text x="521.45" y="690.60" font-size="9.3" textLength="97.90" lengthAdjust="spacingAndGlyphs" fill="#303030">PSD - Colon (circ) - HM</text>
<text x="486.32" y="842.50" font-size="7.6" textLength="21.31" lengthAdjust="spacingAndGlyphs" fill="#595959">0.0000</text>
<text x="486.32" y="827.30" font-size="7.6" textLength="21.35" lengthAdjust="spacingAndGlyphs" fill="#595959">0.0005</text>
<text x="486.32" y="812.10" font-size="7.6" textLength="21.31" lengthAdjust="spacingAndGlyphs" fill="#595959">0.0010</text>
<text x="486.32" y="796.90" font-size="7.6" textLength="21.35" lengthAdjust="spacingAndGlyphs" fill="#595959">0.0015</text>
<text x="486.32" y="781.70" font-size="7.6" textLength="21.31" lengthAdjust="spacingAndGlyphs" fill="#595959">0.0020</text>
<text x="486.32" y="766.50" font-size="7.6" textLength="21.35" lengthAdjust="spacingAndGlyphs" fill="#595959">0.0025</text>
<text x="486.32" y="751.30" font-size="7.6" textLength="21.31" lengthAdjust="spacingAndGlyphs" fill="#595959">0.0030</text>
<text x="486.32" y="736.10" font-size="7.6" textLength="21.35" lengthAdjust="spacingAndGlyphs" fill="#595959">0.0035</text>
<text x="486.32" y="720.90" font-size="7.6" textLength="21.31" lengthAdjust="spacingAndGlyphs" fill="#595959">0.0040</text>
<text x="486.32" y="705.70" font-size="7.6" textLength="21.35" lengthAdjust="spacingAndGlyphs" fill="#595959">0.0045</text>
<text transform="rotate(-90)" x="-790.86" y="482.40" font-size="8.2" textLength="38.58" lengthAdjust="spacingAndGlyphs" fill="#3A3A3A">Power (g²)</text>
<text x="521.74" y="852.10" font-size="6.6" textLength="11.85" lengthAdjust="spacingAndGlyphs" fill="#595959">CTR</text>
<text x="548.65" y="852.10" font-size="6.6" textLength="9.59" lengthAdjust="spacingAndGlyphs" fill="#595959">0.1</text>
<text x="542.46" y="861.40" font-size="6.6" textLength="21.68" lengthAdjust="spacingAndGlyphs" fill="#595959">mg/mL</text>
<text x="574.40" y="852.10" font-size="6.6" textLength="9.55" lengthAdjust="spacingAndGlyphs" fill="#595959">0.5</text>
<text x="568.21" y="861.40" font-size="6.6" textLength="21.68" lengthAdjust="spacingAndGlyphs" fill="#595959">mg/mL</text>
<text x="599.90" y="852.10" font-size="6.6" textLength="9.77" lengthAdjust="spacingAndGlyphs" fill="#595959">1.0</text>
<text x="593.96" y="861.40" font-size="6.6" textLength="21.68" lengthAdjust="spacingAndGlyphs" fill="#595959">mg/mL</text>
<text x="625.90" y="852.10" font-size="6.6" textLength="9.51" lengthAdjust="spacingAndGlyphs" fill="#595959">5.0</text>
<text x="619.71" y="861.40" font-size="6.6" textLength="21.68" lengthAdjust="spacingAndGlyphs" fill="#595959">mg/mL</text>
<text x="650.20" y="852.10" font-size="6.6" textLength="12.20" lengthAdjust="spacingAndGlyphs" fill="#595959">10.0</text>
<text x="645.46" y="861.40" font-size="6.6" textLength="21.68" lengthAdjust="spacingAndGlyphs" fill="#595959">mg/mL</text>
<rect x="541.40" y="874.00" width="4.40" height="4.40" fill="#4472C4"/>
<text x="547.32" y="878.40" font-size="7.4" textLength="8.49" lengthAdjust="spacingAndGlyphs" fill="#3A3A3A">LF</text>
<rect x="562.40" y="874.00" width="4.40" height="4.40" fill="#ED7D31"/>
<text x="568.95" y="878.40" font-size="7.4" textLength="11.66" lengthAdjust="spacingAndGlyphs" fill="#3A3A3A">MF</text>
<rect x="587.20" y="874.00" width="4.40" height="4.40" fill="#A5A5A5"/>
<text x="593.32" y="878.40" font-size="7.4" textLength="9.69" lengthAdjust="spacingAndGlyphs" fill="#3A3A3A">HF</text>
<rect x="519.87" y="833.72" width="4.20" height="6.08" fill="#4472C4"/>
<rect x="525.57" y="835.94" width="4.20" height="3.86" fill="#ED7D31"/>
<rect x="531.27" y="838.58" width="4.20" height="1.22" fill="#A5A5A5"/>
<rect x="545.62" y="833.72" width="4.20" height="6.08" fill="#4472C4"/>
<rect x="551.32" y="835.24" width="4.20" height="4.56" fill="#ED7D31"/>
<rect x="557.02" y="838.89" width="4.20" height="0.91" fill="#A5A5A5"/>
<rect x="571.37" y="832.20" width="4.20" height="7.60" fill="#4472C4"/>
<rect x="577.07" y="836.15" width="4.20" height="3.65" fill="#ED7D31"/>
<rect x="582.77" y="838.89" width="4.20" height="0.91" fill="#A5A5A5"/>
<rect x="597.12" y="832.20" width="4.20" height="7.60" fill="#4472C4"/>
<rect x="602.82" y="836.15" width="4.20" height="3.65" fill="#ED7D31"/>
<rect x="608.52" y="839.00" width="4.20" height="0.80" fill="#A5A5A5"/>
<rect x="622.87" y="830.98" width="4.20" height="8.82" fill="#4472C4"/>
<rect x="628.57" y="836.15" width="4.20" height="3.65" fill="#ED7D31"/>
<rect x="634.27" y="839.00" width="4.20" height="0.80" fill="#A5A5A5"/>
<rect x="648.62" y="829.77" width="4.20" height="10.03" fill="#4472C4"/>
<rect x="654.32" y="831.90" width="4.20" height="7.90" fill="#ED7D31"/>
<rect x="660.02" y="839.00" width="4.20" height="0.80" fill="#A5A5A5"/>
<line x1="41.00" y1="916.90" x2="199.80" y2="916.90" stroke="#F0F0F0" stroke-width="1.8"/>
<line x1="41.00" y1="930.54" x2="199.80" y2="930.54" stroke="#F0F0F0" stroke-width="1.8"/>
<line x1="41.00" y1="944.19" x2="199.80" y2="944.19" stroke="#F0F0F0" stroke-width="1.8"/>
<line x1="41.00" y1="957.84" x2="199.80" y2="957.84" stroke="#F0F0F0" stroke-width="1.8"/>
<line x1="41.00" y1="971.48" x2="199.80" y2="971.48" stroke="#F0F0F0" stroke-width="1.8"/>
<line x1="41.00" y1="985.12" x2="199.80" y2="985.12" stroke="#F0F0F0" stroke-width="1.8"/>
<line x1="41.00" y1="998.77" x2="199.80" y2="998.77" stroke="#F0F0F0" stroke-width="1.8"/>
<line x1="41.00" y1="1012.41" x2="199.80" y2="1012.41" stroke="#F0F0F0" stroke-width="1.8"/>
<line x1="41.00" y1="1026.06" x2="199.80" y2="1026.06" stroke="#F0F0F0" stroke-width="1.8"/>
<line x1="41.00" y1="1039.70" x2="199.80" y2="1039.70" stroke="#F0F0F0" stroke-width="1.8"/>
<line x1="41.00" y1="1053.35" x2="199.80" y2="1053.35" stroke="#F0F0F0" stroke-width="1.8"/>
<text x="31.27" y="903.60" font-size="9.3" textLength="139.63" lengthAdjust="spacingAndGlyphs" fill="#303030">PSD Variation - Colon (circ) - OEE</text>
<text x="29.13" y="920.10" font-size="9.0" textLength="5.10" lengthAdjust="spacingAndGlyphs" fill="#595959">0</text>
<text x="22.33" y="933.75" font-size="9.0" textLength="11.86" lengthAdjust="spacingAndGlyphs" fill="#595959">-10</text>
<text x="22.33" y="947.39" font-size="9.0" textLength="11.86" lengthAdjust="spacingAndGlyphs" fill="#595959">-20</text>
<text x="22.33" y="961.04" font-size="9.0" textLength="11.86" lengthAdjust="spacingAndGlyphs" fill="#595959">-30</text>
<text x="22.33" y="974.68" font-size="9.0" textLength="11.86" lengthAdjust="spacingAndGlyphs" fill="#595959">-40</text>
<text x="22.33" y="988.33" font-size="9.0" textLength="11.86" lengthAdjust="spacingAndGlyphs" fill="#595959">-50</text>
<text x="22.33" y="1001.97" font-size="9.0" textLength="11.86" lengthAdjust="spacingAndGlyphs" fill="#595959">-60</text>
<text x="22.33" y="1015.62" font-size="9.0" textLength="11.86" lengthAdjust="spacingAndGlyphs" fill="#595959">-70</text>
<text x="22.33" y="1029.26" font-size="9.0" textLength="11.86" lengthAdjust="spacingAndGlyphs" fill="#595959">-80</text>
<text x="22.33" y="1042.90" font-size="9.0" textLength="11.86" lengthAdjust="spacingAndGlyphs" fill="#595959">-90</text>
<text x="18.04" y="1056.55" font-size="9.0" textLength="16.16" lengthAdjust="spacingAndGlyphs" fill="#595959">-100</text>
<text transform="rotate(-90)" x="-1005.99" y="13.60" font-size="8.3" textLength="41.66" lengthAdjust="spacingAndGlyphs" fill="#3A3A3A">% variation</text>
<text x="49.46" y="1065.50" font-size="6.6" textLength="11.85" lengthAdjust="spacingAndGlyphs" fill="#595959">CTR</text>
<text x="76.82" y="1065.50" font-size="6.6" textLength="9.59" lengthAdjust="spacingAndGlyphs" fill="#595959">0.1</text>
<text x="70.64" y="1074.30" font-size="6.6" textLength="21.68" lengthAdjust="spacingAndGlyphs" fill="#595959">mg/mL</text>
<text x="103.03" y="1065.50" font-size="6.6" textLength="9.55" lengthAdjust="spacingAndGlyphs" fill="#595959">0.5</text>
<text x="96.84" y="1074.30" font-size="6.6" textLength="21.68" lengthAdjust="spacingAndGlyphs" fill="#595959">mg/mL</text>
<text x="128.97" y="1065.50" font-size="6.6" textLength="9.77" lengthAdjust="spacingAndGlyphs" fill="#595959">1.0</text>
<text x="123.04" y="1074.30" font-size="6.6" textLength="21.68" lengthAdjust="spacingAndGlyphs" fill="#595959">mg/mL</text>
<text x="155.43" y="1065.50" font-size="6.6" textLength="9.51" lengthAdjust="spacingAndGlyphs" fill="#595959">5.0</text>
<text x="149.24" y="1074.30" font-size="6.6" textLength="21.68" lengthAdjust="spacingAndGlyphs" fill="#595959">mg/mL</text>
<text x="180.18" y="1065.50" font-size="6.6" textLength="12.20" lengthAdjust="spacingAndGlyphs" fill="#595959">10.0</text>
<text x="175.44" y="1074.30" font-size="6.6" textLength="21.68" lengthAdjust="spacingAndGlyphs" fill="#595959">mg/mL</text>
<rect x="71.80" y="1087.00" width="4.40" height="4.40" fill="#4472C4"/>
<text x="78.00" y="1091.40" font-size="7.4" textLength="8.71" lengthAdjust="spacingAndGlyphs" fill="#3A3A3A">LF</text>
<circle cx="94.80" cy="1089.20" r="2.30" fill="#ED7D31"/>
<text x="98.58" y="1091.40" font-size="7.4" textLength="13.08" lengthAdjust="spacingAndGlyphs" fill="#3A3A3A">MF</text>
<path d="M117.00,1091.29L121.40,1091.29L119.20,1087.11Z" fill="#A5A5A5"/>
<text x="123.55" y="1091.40" font-size="7.4" textLength="10.91" lengthAdjust="spacingAndGlyphs" fill="#3A3A3A">HF</text>
<rect x="52.90" y="914.40" width="5.00" height="5.00" fill="#4472C4"/>
<rect x="79.10" y="956.02" width="5.00" height="5.00" fill="#4472C4"/>
<rect x="105.30" y="982.62" width="5.00" height="5.00" fill="#4472C4"/>
<rect x="131.50" y="1018.51" width="5.00" height="5.00" fill="#4472C4"/>
<rect x="157.70" y="1015.92" width="5.00" height="5.00" fill="#4472C4"/>
<rect x="183.90" y="1044.16" width="5.00" height="5.00" fill="#4472C4"/>
<circle cx="55.40" cy="916.90" r="2.50" fill="#ED7D31"/>
<circle cx="81.60" cy="999.04" r="2.50" fill="#ED7D31"/>
<circle cx="107.80" cy="991.13" r="2.50" fill="#ED7D31"/>
<circle cx="134.00" cy="1014.33" r="2.50" fill="#ED7D31"/>
<circle cx="160.20" cy="1031.65" r="2.50" fill="#ED7D31"/>
<circle cx="186.40" cy="1043.66" r="2.50" fill="#ED7D31"/>
<path d="M52.80,919.37L58.00,919.37L55.40,914.43Z" fill="#A5A5A5"/>
<path d="M79.00,998.65L84.20,998.65L81.60,993.71Z" fill="#A5A5A5"/>
<path d="M105.20,999.06L110.40,999.06L107.80,994.12Z" fill="#A5A5A5"/>
<path d="M131.40,1006.70L136.60,1006.70L134.00,1001.76Z" fill="#A5A5A5"/>
<path d="M157.60,1010.66L162.80,1010.66L160.20,1005.72Z" fill="#A5A5A5"/>
<path d="M183.80,1016.80L189.00,1016.80L186.40,1011.86Z" fill="#A5A5A5"/>
<line x1="275.80" y1="916.85" x2="433.70" y2="916.85" stroke="#F0F0F0" stroke-width="1.8"/>
<line x1="275.80" y1="936.32" x2="433.70" y2="936.32" stroke="#F0F0F0" stroke-width="1.8"/>
<line x1="275.80" y1="955.79" x2="433.70" y2="955.79" stroke="#F0F0F0" stroke-width="1.8"/>
<line x1="275.80" y1="975.26" x2="433.70" y2="975.26" stroke="#F0F0F0" stroke-width="1.8"/>
<line x1="275.80" y1="994.73" x2="433.70" y2="994.73" stroke="#F0F0F0" stroke-width="1.8"/>
<line x1="275.80" y1="1014.20" x2="433.70" y2="1014.20" stroke="#F0F0F0" stroke-width="1.8"/>
<line x1="275.80" y1="1033.67" x2="433.70" y2="1033.67" stroke="#F0F0F0" stroke-width="1.8"/>
<line x1="275.80" y1="1053.14" x2="433.70" y2="1053.14" stroke="#F0F0F0" stroke-width="1.8"/>
<text x="266.47" y="903.60" font-size="9.3" textLength="138.52" lengthAdjust="spacingAndGlyphs" fill="#303030">PSD Variation - Colon (circ) - HSE</text>
<text x="255.08" y="920.05" font-size="9.0" textLength="13.54" lengthAdjust="spacingAndGlyphs" fill="#595959">500</text>
<text x="255.24" y="939.52" font-size="9.0" textLength="13.37" lengthAdjust="spacingAndGlyphs" fill="#595959">400</text>
<text x="255.08" y="958.99" font-size="9.0" textLength="13.54" lengthAdjust="spacingAndGlyphs" fill="#595959">300</text>
<text x="254.99" y="978.46" font-size="9.0" textLength="13.62" lengthAdjust="spacingAndGlyphs" fill="#595959">200</text>
<text x="254.78" y="997.93" font-size="9.0" textLength="13.84" lengthAdjust="spacingAndGlyphs" fill="#595959">100</text>
<text x="263.53" y="1017.40" font-size="9.0" textLength="5.10" lengthAdjust="spacingAndGlyphs" fill="#595959">0</text>
<text x="252.44" y="1036.87" font-size="9.0" textLength="16.16" lengthAdjust="spacingAndGlyphs" fill="#595959">-100</text>
<text x="252.44" y="1056.34" font-size="9.0" textLength="16.16" lengthAdjust="spacingAndGlyphs" fill="#595959">-200</text>
<text transform="rotate(-90)" x="-1005.99" y="248.40" font-size="8.3" textLength="41.66" lengthAdjust="spacingAndGlyphs" fill="#3A3A3A">% variation</text>
<text x="283.76" y="1065.50" font-size="6.6" textLength="11.85" lengthAdjust="spacingAndGlyphs" fill="#595959">CTR</text>
<text x="311.12" y="1065.50" font-size="6.6" textLength="9.59" lengthAdjust="spacingAndGlyphs" fill="#595959">0.1</text>
<text x="304.94" y="1074.30" font-size="6.6" textLength="21.68" lengthAdjust="spacingAndGlyphs" fill="#595959">mg/mL</text>
<text x="337.33" y="1065.50" font-size="6.6" textLength="9.55" lengthAdjust="spacingAndGlyphs" fill="#595959">0.5</text>
<text x="331.14" y="1074.30" font-size="6.6" textLength="21.68" lengthAdjust="spacingAndGlyphs" fill="#595959">mg/mL</text>
<text x="363.27" y="1065.50" font-size="6.6" textLength="9.77" lengthAdjust="spacingAndGlyphs" fill="#595959">1.0</text>
<text x="357.34" y="1074.30" font-size="6.6" textLength="21.68" lengthAdjust="spacingAndGlyphs" fill="#595959">mg/mL</text>
<text x="389.73" y="1065.50" font-size="6.6" textLength="9.51" lengthAdjust="spacingAndGlyphs" fill="#595959">5.0</text>
<text x="383.54" y="1074.30" font-size="6.6" textLength="21.68" lengthAdjust="spacingAndGlyphs" fill="#595959">mg/mL</text>
<text x="414.48" y="1065.50" font-size="6.6" textLength="12.20" lengthAdjust="spacingAndGlyphs" fill="#595959">10.0</text>
<text x="409.74" y="1074.30" font-size="6.6" textLength="21.68" lengthAdjust="spacingAndGlyphs" fill="#595959">mg/mL</text>
<rect x="306.20" y="1087.00" width="4.40" height="4.40" fill="#4472C4"/>
<text x="312.84" y="1091.40" font-size="7.4" textLength="9.60" lengthAdjust="spacingAndGlyphs" fill="#3A3A3A">LF</text>
<circle cx="329.40" cy="1089.20" r="2.30" fill="#ED7D31"/>
<text x="333.98" y="1091.40" font-size="7.4" textLength="12.97" lengthAdjust="spacingAndGlyphs" fill="#3A3A3A">MF</text>
<path d="M351.00,1091.29L355.40,1091.29L353.20,1087.11Z" fill="#A5A5A5"/>
<text x="357.84" y="1091.40" font-size="7.4" textLength="11.02" lengthAdjust="spacingAndGlyphs" fill="#3A3A3A">HF</text>
<rect x="287.20" y="1011.70" width="5.00" height="5.00" fill="#4472C4"/>
<rect x="313.40" y="1010.59" width="5.00" height="5.00" fill="#4472C4"/>
<rect x="339.60" y="979.19" width="5.00" height="5.00" fill="#4472C4"/>
<rect x="365.80" y="985.42" width="5.00" height="5.00" fill="#4472C4"/>
<rect x="392.00" y="1008.58" width="5.00" height="5.00" fill="#4472C4"/>
<rect x="418.20" y="1029.03" width="5.00" height="5.00" fill="#4472C4"/>
<circle cx="289.70" cy="1014.20" r="2.50" fill="#ED7D31"/>
<circle cx="315.90" cy="1002.32" r="2.50" fill="#ED7D31"/>
<circle cx="342.10" cy="975.45" r="2.50" fill="#ED7D31"/>
<circle cx="368.30" cy="986.16" r="2.50" fill="#ED7D31"/>
<circle cx="394.50" cy="973.90" r="2.50" fill="#ED7D31"/>
<circle cx="420.70" cy="1032.70" r="2.50" fill="#ED7D31"/>
<path d="M287.10,1016.67L292.30,1016.67L289.70,1011.73Z" fill="#A5A5A5"/>
<path d="M313.30,1002.26L318.50,1002.26L315.90,997.32Z" fill="#A5A5A5"/>
<path d="M339.50,950.28L344.70,950.28L342.10,945.34Z" fill="#A5A5A5"/>
<path d="M365.70,981.23L370.90,981.23L368.30,976.29Z" fill="#A5A5A5"/>
<path d="M391.90,932.17L397.10,932.17L394.50,927.23Z" fill="#A5A5A5"/>
<path d="M418.10,1034.78L423.30,1034.78L420.70,1029.84Z" fill="#A5A5A5"/>
<line x1="508.70" y1="917.00" x2="668.90" y2="917.00" stroke="#F0F0F0" stroke-width="1.8"/>
<line x1="508.70" y1="932.03" x2="668.90" y2="932.03" stroke="#F0F0F0" stroke-width="1.8"/>
<line x1="508.70" y1="947.06" x2="668.90" y2="947.06" stroke="#F0F0F0" stroke-width="1.8"/>
<line x1="508.70" y1="962.09" x2="668.90" y2="962.09" stroke="#F0F0F0" stroke-width="1.8"/>
<line x1="508.70" y1="977.12" x2="668.90" y2="977.12" stroke="#F0F0F0" stroke-width="1.8"/>
<line x1="508.70" y1="992.15" x2="668.90" y2="992.15" stroke="#F0F0F0" stroke-width="1.8"/>
<line x1="508.70" y1="1007.18" x2="668.90" y2="1007.18" stroke="#F0F0F0" stroke-width="1.8"/>
<line x1="508.70" y1="1022.21" x2="668.90" y2="1022.21" stroke="#F0F0F0" stroke-width="1.8"/>
<line x1="508.70" y1="1037.24" x2="668.90" y2="1037.24" stroke="#F0F0F0" stroke-width="1.8"/>
<line x1="508.70" y1="1052.27" x2="668.90" y2="1052.27" stroke="#F0F0F0" stroke-width="1.8"/>
<text x="501.85" y="904.10" font-size="9.3" textLength="137.72" lengthAdjust="spacingAndGlyphs" fill="#303030">PSD Variation - Colon (circ) - HM</text>
<text x="486.88" y="920.20" font-size="9.0" textLength="13.84" lengthAdjust="spacingAndGlyphs" fill="#595959">120</text>
<text x="486.88" y="935.23" font-size="9.0" textLength="13.84" lengthAdjust="spacingAndGlyphs" fill="#595959">100</text>
<text x="491.42" y="950.26" font-size="9.0" textLength="9.29" lengthAdjust="spacingAndGlyphs" fill="#595959">80</text>
<text x="491.38" y="965.29" font-size="9.0" textLength="9.33" lengthAdjust="spacingAndGlyphs" fill="#595959">60</text>
<text x="491.64" y="980.32" font-size="9.0" textLength="9.07" lengthAdjust="spacingAndGlyphs" fill="#595959">40</text>
<text x="491.38" y="995.35" font-size="9.0" textLength="9.33" lengthAdjust="spacingAndGlyphs" fill="#595959">20</text>
<text x="495.63" y="1010.38" font-size="9.0" textLength="5.10" lengthAdjust="spacingAndGlyphs" fill="#595959">0</text>
<text x="488.83" y="1025.41" font-size="9.0" textLength="11.86" lengthAdjust="spacingAndGlyphs" fill="#595959">-20</text>
<text x="488.83" y="1040.44" font-size="9.0" textLength="11.86" lengthAdjust="spacingAndGlyphs" fill="#595959">-40</text>
<text x="488.83" y="1055.47" font-size="9.0" textLength="11.86" lengthAdjust="spacingAndGlyphs" fill="#595959">-60</text>
<text transform="rotate(-90)" x="-1005.99" y="483.40" font-size="8.3" textLength="41.66" lengthAdjust="spacingAndGlyphs" fill="#3A3A3A">% variation</text>
<text x="516.11" y="1065.50" font-size="6.6" textLength="11.85" lengthAdjust="spacingAndGlyphs" fill="#595959">CTR</text>
<text x="543.97" y="1065.50" font-size="6.6" textLength="9.59" lengthAdjust="spacingAndGlyphs" fill="#595959">0.1</text>
<text x="537.79" y="1074.30" font-size="6.6" textLength="21.68" lengthAdjust="spacingAndGlyphs" fill="#595959">mg/mL</text>
<text x="570.68" y="1065.50" font-size="6.6" textLength="9.55" lengthAdjust="spacingAndGlyphs" fill="#595959">0.5</text>
<text x="564.49" y="1074.30" font-size="6.6" textLength="21.68" lengthAdjust="spacingAndGlyphs" fill="#595959">mg/mL</text>
<text x="597.12" y="1065.50" font-size="6.6" textLength="9.77" lengthAdjust="spacingAndGlyphs" fill="#595959">1.0</text>
<text x="591.19" y="1074.30" font-size="6.6" textLength="21.68" lengthAdjust="spacingAndGlyphs" fill="#595959">mg/mL</text>
<text x="624.08" y="1065.50" font-size="6.6" textLength="9.51" lengthAdjust="spacingAndGlyphs" fill="#595959">5.0</text>
<text x="617.89" y="1074.30" font-size="6.6" textLength="21.68" lengthAdjust="spacingAndGlyphs" fill="#595959">mg/mL</text>
<text x="649.33" y="1065.50" font-size="6.6" textLength="12.20" lengthAdjust="spacingAndGlyphs" fill="#595959">10.0</text>
<text x="644.59" y="1074.30" font-size="6.6" textLength="21.68" lengthAdjust="spacingAndGlyphs" fill="#595959">mg/mL</text>
<rect x="541.50" y="1086.40" width="4.40" height="4.40" fill="#4472C4"/>
<text x="547.68" y="1090.80" font-size="7.4" textLength="9.05" lengthAdjust="spacingAndGlyphs" fill="#3A3A3A">LF</text>
<circle cx="564.50" cy="1088.60" r="2.30" fill="#ED7D31"/>
<text x="568.93" y="1090.80" font-size="7.4" textLength="12.10" lengthAdjust="spacingAndGlyphs" fill="#3A3A3A">MF</text>
<path d="M586.60,1090.69L591.00,1090.69L588.80,1086.51Z" fill="#A5A5A5"/>
<text x="593.57" y="1090.80" font-size="7.4" textLength="10.47" lengthAdjust="spacingAndGlyphs" fill="#3A3A3A">HF</text>
<rect x="519.55" y="1004.68" width="5.00" height="5.00" fill="#4472C4"/>
<rect x="546.25" y="1005.81" width="5.00" height="5.00" fill="#4472C4"/>
<rect x="572.95" y="987.85" width="5.00" height="5.00" fill="#4472C4"/>
<rect x="599.65" y="987.62" width="5.00" height="5.00" fill="#4472C4"/>
<rect x="626.35" y="974.24" width="5.00" height="5.00" fill="#4472C4"/>
<rect x="653.05" y="959.74" width="5.00" height="5.00" fill="#4472C4"/>
<circle cx="522.05" cy="1007.18" r="2.50" fill="#ED7D31"/>
<circle cx="548.75" cy="992.07" r="2.50" fill="#ED7D31"/>
<circle cx="575.45" cy="1010.49" r="2.50" fill="#ED7D31"/>
<circle cx="602.15" cy="1010.49" r="2.50" fill="#ED7D31"/>
<circle cx="628.85" cy="1007.41" r="2.50" fill="#ED7D31"/>
<circle cx="655.55" cy="931.05" r="2.50" fill="#ED7D31"/>
<path d="M519.45,1009.65L524.65,1009.65L522.05,1004.71Z" fill="#A5A5A5"/>
<path d="M546.15,1000.03L551.35,1000.03L548.75,995.09Z" fill="#A5A5A5"/>
<path d="M572.85,1024.08L578.05,1024.08L575.45,1019.14Z" fill="#A5A5A5"/>
<path d="M599.55,1046.02L604.75,1046.02L602.15,1041.08Z" fill="#A5A5A5"/>
<path d="M626.25,1044.67L631.45,1044.67L628.85,1039.73Z" fill="#A5A5A5"/>
<path d="M652.95,1042.04L658.15,1042.04L655.55,1037.10Z" fill="#A5A5A5"/>
<text x="683.01" y="899.80" font-size="32.83" textLength="36.40" lengthAdjust="spacingAndGlyphs" fill="#000000" font-weight="bold">(c)</text>
</svg>
</body></html>
